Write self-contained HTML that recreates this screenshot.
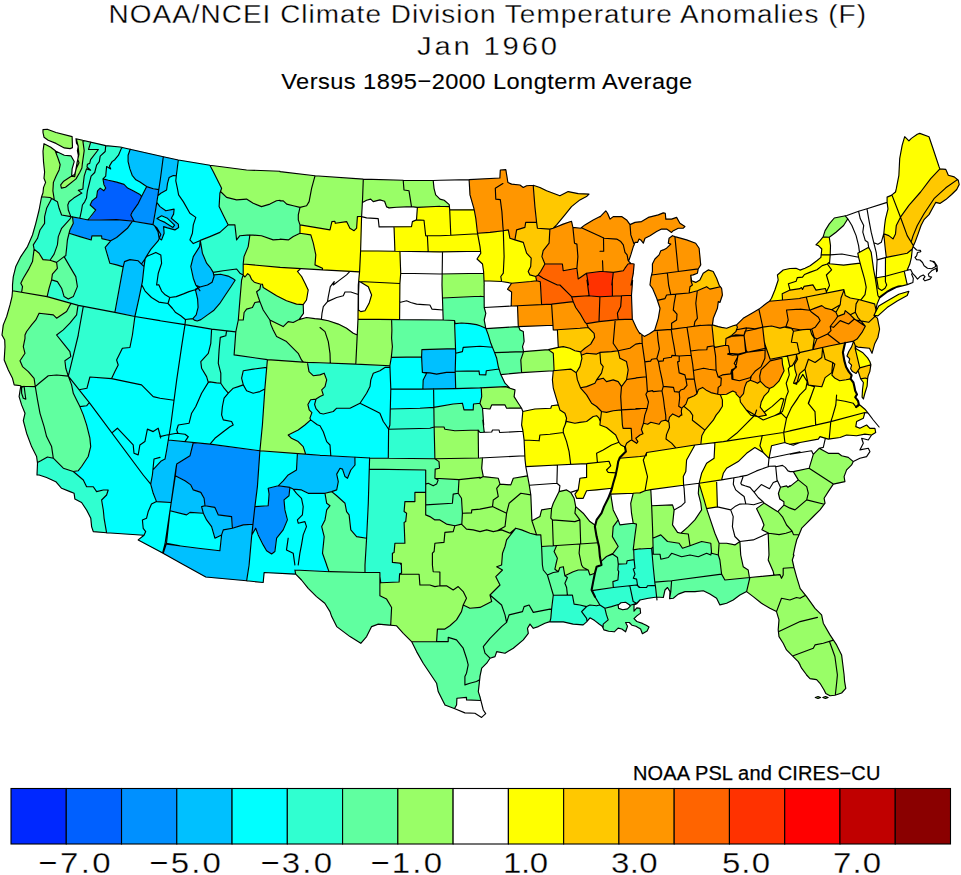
<!DOCTYPE html>
<html><head><meta charset="utf-8"><title>NOAA/NCEI Climate Division Temperature Anomalies</title>
<style>html,body{margin:0;padding:0;background:#fff;overflow:hidden}svg{display:block}</style></head>
<body><svg width="961" height="875" viewBox="0 0 961 875">
<rect width="961" height="875" fill="#fff"/>
<path fill="#0060ff" fill-rule="evenodd" stroke="#0060ff" stroke-width="0.6" d="M103.5,179.2 104,184.2 105.8,188.2 104,190.8 101,188.5 100,188.5 97.5,191.2 96.5,197.2 92,201 90.5,204.8 95.5,209.8 95.5,210.5 88.8,219.8 118.5,219.8 132,221.2 133.8,221 130.8,214.8 132.5,211.2 138.2,203.2 141.8,196.2 138.8,193.8 127.5,188 123.8,184.5 116.8,182.2Z"/>
<path fill="#0090ff" fill-rule="evenodd" stroke="#0090ff" stroke-width="0.6" d="M193.2,442.8 190.2,455.5 177,464 175.2,475.8 185,480.5 190.8,484.8 193.5,490 200.5,492.2 204,497.8 205.2,505.8 214.8,507.2 218.8,515 231.2,516.5 232,518.5 232.8,528 242.8,525 252.5,524.2 253,526.2 252.2,532.5 253,532.5 254.5,530 255.8,529 266.5,550.5 271.2,553.8 274,552.2 275.2,549.8 276.5,538 283.2,530 287,520.5 285,511 284,500 288.8,496 289.8,487.8 278.5,485.8 268.8,488.2 269.2,495.2 268.2,505.5 265.5,506.2 255.2,506.8 255,505 257.8,484 260,451 211.5,444.8 210.5,444.2ZM69.5,233.2 90.5,239.8 91.2,239.5 91.8,236.2 92.2,235.8 101.5,235.8 102.5,238.5 110.5,240.8 116.5,237.5 127,228.5 131.8,221.2 118.5,220 89.5,220.2 80,218.2 72.8,217.5 73.5,223 70,230.2ZM146.8,186.8 138.5,203.2 132.8,211.2 131,215.2 134,221 134.8,221.5 152.8,224.5 158.8,190.2 158.5,189.8 153.2,189Z"/>
<path fill="#00c0ff" fill-rule="evenodd" stroke="#00c0ff" stroke-width="0.6" d="M279,485.8 289.2,487.2 294,489.2 302,490 308.5,493.2 325,493.2 336,490.2 336.8,489.8 338.2,481.5 336.8,473.8 339.2,469.2 340.2,468.2 342.8,469.2 345,476.2 347.5,477.8 350.8,469.8 355,464.8 355,457.5 297.8,454 296.5,470 288.5,475ZM168.5,440.2 165.2,459 161,461.2 153,469.8 152.2,476.8 150.8,484 153.2,493 156.5,501.5 171,502.5 171.2,503.8 170.2,510.8 187,514.8 189.8,512.5 203,513 206.8,520.2 212,527.2 215,537.8 216,537.8 221.2,535.2 221.5,538.2 220.5,548.8 219.8,550.8 180,546.2 166.5,544 165.5,544.8 163.2,553 206,577 246.5,580.5 249.2,563 251.5,535 252.2,533.2 252.5,524.5 242.8,525.2 232.8,528.2 232.2,527.2 231.2,516.8 218.8,515.2 218,514.8 214.8,507.5 205.2,506 204.8,505.2 204,498.5 201,493 193.5,490.2 190.8,485 185,480.8 175,475.8 176.8,464 190,455.5 193,442.8ZM455.2,348.8 422.2,349.8 421.5,357.5 422,359.5 422.8,372.2 426,372.8 426.5,373.2 423.5,379.8 423.2,388.8 430,389 455.8,388.2 455,373 455.8,350.5ZM200.5,244.5 199.8,245 199,247.8 193.2,256.8 191,265.8 193,277 195.5,284.2 197,286 198.8,286.2 199.5,287 195.5,289.8 197.8,299.2 198.2,307.2 196.5,315 193.2,318.8 194.5,320 196.5,320.8 201,319.5 213,311 219.8,303.8 234.8,280.2 232.8,278.5 228,276 221.5,274.5 215,275 213.5,274.5 213.2,272.2 206,262.5 202.2,253 201,245ZM173.8,209.5 165.5,210.8 160.5,207 157,203.2 153.8,221.8 152.8,224.8 135.8,222 134,221.2 132,221.5 127,228.8 116.5,237.8 110.8,240.8 105.5,247.2 110,263 123.2,267 115.2,312.5 134.8,316.2 139.2,297 141,287 141.8,285.8 144.8,259.2 150.8,249.2 158.2,240.5 158.8,238.8 159.5,238.2 161.8,239.5 164,233.2 163.8,226.8 174,229.8 175.8,229.5 178.5,227 178,223.8 171.2,218 173.5,213.8ZM157.2,218.5 161.5,215.8 163.5,216.2 167.8,218.2 174.5,225.5 172.8,227.5 165.5,222.8 159.8,220.2ZM130.2,149.8 128.2,154.8 128.2,162.2 132,174.5 135,178.8 146.8,186.5 153.2,188.8 158.5,189.5 159,190.2 158.5,194.5 166,190.2 166.8,188.5 167.2,183.8 168.8,177.8 173,175.5 176,175.8 178.2,160.2 133.2,150Z"/>
<path fill="#00ffff" fill-rule="evenodd" stroke="#00ffff" stroke-width="0.6" d="M325,493.5 308.5,493.5 302,490.2 294,489.5 290,488 289,496 284.2,500 285.2,511 287.2,520.5 283.5,530 276.8,538 275,551.5 271.2,554 266.2,550.5 257.8,534.2 255.8,529.2 252,534 249.5,563 246.8,580.5 263,582.2 264.2,572.5 295,574.2 295.5,574 295.2,570 328.8,571.5 322.5,553.8 324.2,536.8 321.8,526.2 325,519.8 326.5,510.2 329.8,505.8 326.5,502.8ZM481.2,388.2 423.8,389.2 423,388.8 423.2,379.8 426.2,373.2 422.5,372.2 421.2,357.2 391.5,357.8 389.8,367.8 384.8,367.8 381.2,370.2 373.2,373.5 371,379.5 370,387 366.8,393.2 360,403.5 349.8,408.5 336.5,408.5 333,411.8 324.2,414 322.2,414 320.2,413.5 315.8,408.2 314.8,405 315.5,399.5 311,399.8 308.2,404.2 309.2,409.8 312,412.5 310.2,417.5 310.8,420 298.2,430.2 288.8,435.2 291.8,438.2 298.5,441.8 303.2,446.5 305.8,454 354.5,457 355.2,457.5 355.2,464.8 351,469.8 347.5,478 344.8,476.2 342.5,469.2 340.5,468.5 339.5,469.2 337,473.8 338.5,481.5 337,489.8 336,490.5 332.8,491.2 332.5,492 345.2,503.5 346.8,511.2 349.5,515.2 351,530.2 356.8,536.2 366.2,538 368.2,505 369.5,458.2 388.2,458 388.5,428.5 390,425 390.2,409.2 394.8,408.8 421,408.2 435.2,407.2 452.2,404 462.2,403.2 464,409.5 472.5,409.8 473.2,409 473.8,404 480,403 481.8,396.5ZM455,323.5 455.5,349 456,350.5 455.5,371.2 478.8,370.8 479.8,374.2 485,375 485.8,374.2 486,371.5 486.8,370.5 498.5,369 498.8,368.2 496.8,358.2 494.8,352.5 490.8,343.8 486,328.5 479.2,325.5 474.5,324.2 464,323.2ZM157.5,218.5 165.5,222.5 172.8,227.2 174.2,225.5 167.8,218.5 163.5,216.5 161.5,216ZM179.5,160.2 178.2,160.5 176.2,175.8 173,175.8 169,177.8 166.5,190 158.5,194.8 157,201.2 157,203 159,205.2 165.5,210.5 171.8,209.2 174,209.5 173.8,213.8 171.5,218 178.2,223.8 178.8,227 175.2,230 163.8,227 164.2,233.2 162,239.5 161.2,239.8 159.5,238.5 159,238.8 158.5,240.5 151,249.2 145,259.2 142,285.8 141.2,287 139.5,297 135,315.5 132.8,333.5 130,347.2 128,348 122.5,348.5 116.8,359.8 118.2,365.5 111.5,378.5 90,377.2 87.2,388 86.8,388.5 79.8,390 89.2,402 89.2,402.8 86.5,405.8 80.8,406.5 80.5,407.8 83.8,415.8 87.2,426.8 90.2,438.2 91,446.2 88.5,456.5 79.2,469.8 77.8,471 74.2,471.8 74.5,472.5 83.5,480 86.5,486.5 93.2,486.8 96.5,491.5 102.5,490 108.2,490.2 106.5,495.2 101.8,500 106.5,532.5 142.5,535 143.2,535.8 139,539.5 139.5,540.5 162.2,552.8 163.2,552.2 165.2,544.8 166.5,543.8 180,546 219.8,550.5 221.2,538.2 221.2,535.5 215.2,538.2 214.8,537.8 211.8,527.2 206.5,520.2 203,513.2 189.8,512.8 187,515 176.8,512.8 170,510.8 171,502.8 159.5,502.2 156.2,501.5 153,493 150.5,484 152,476.8 152.8,469.8 161,461 165,459 168,440.5 168.5,440 210.5,444 211.5,444.5 259.8,450.5 260.2,452 258,484 255.2,506.5 268,505.5 269,495.2 268.2,488.5 269.5,487.8 278.8,485.5 288.5,474.8 296.2,470 297.5,455 297.2,453.8 260,450.8 262.5,425.8 266.5,367.8 252,369.2 243.8,370.8 241.8,377.2 243.2,385 233.5,388.2 228.2,393.2 224,388.5 220.5,383.2 216.2,383.2 211.2,382.2 208.5,382.5 207.8,381.5 206.2,376 201.8,368.5 200.8,361.2 208.2,353 210.8,343 211.5,329.2 184.8,324.5 185.8,319.5 192.8,318.8 196.2,315 198,307.2 197.5,299.2 195.2,289.8 199.2,287 197,286.2 195.2,284.2 192.8,277 190.8,265.8 193,256.8 198.8,247.8 199.5,245 200.2,244.2 199.8,241 202.8,239.2 220,232.5 228,224.8 219,206.8 219.8,194.5 221.2,187.8 210.5,165.8 209.8,165.2ZM121.8,147.8 118.8,155.2 114.8,160 112,161.8 109.5,166 109.8,167.8 108.8,168 106.8,167 106,175.8 103.8,179 116.8,182 123.8,184.2 127.5,187.8 138.8,193.5 141.8,196 146.5,186.5 136,180 132.2,175.5 128,162.2 128,154.8 130,149.5Z"/>
<path fill="#30ffd0" fill-rule="evenodd" stroke="#30ffd0" stroke-width="0.6" d="M652.8,547.5 651.2,548.5 638.8,549 634,549.8 634.5,557.8 634,559.8 627.5,560.8 627,563 626,564 618.5,564.5 618.2,570.5 619,572.5 618.2,579.5 617.2,580.5 613.2,581.5 613.2,587.5 592.2,591 595.2,597 599.5,603.8 599.8,604.8 598.8,605.5 596,606 589.5,605.2 586,606.8 581,605.2 574.5,604.2 573.8,603.5 572.5,595.2 553.5,595.2 550.2,621.5 551.5,622 564.2,622 573.2,624 582.8,625 590.2,617.8 594.8,620.2 602.8,626.2 603.2,624 608,620 605,609.2 605.2,608 618,604.8 620.8,602.8 624,602.2 626.2,602.5 630.2,605.5 636.5,603.5 640,600 641.2,599.5 656.5,597 652,554.2 653.2,552.2ZM369.5,469.2 368.5,505 365.2,562.5 365.2,572.2 379.8,572.5 380.2,573.2 380.5,582.2 381.5,582.8 398.2,582 399,581.2 399.5,574.2 400.8,573.8 401.5,572.5 401.2,565 400,563.2 394,562.8 392.5,562 392.5,553.2 394,551.8 394.8,544 395.2,543.2 404.2,543.2 405,542.5 404,522.5 405.8,521 406.5,513.8 404,511.5 404.8,502.2 405.2,501.5 414.8,501.2 415.2,492.5 425.5,492.5 425.8,470.8 425.5,470.2ZM37.8,462 37.2,474.8 39.8,475 47.2,477.5 54.8,481 62,488.2 73.8,493 74.2,493.5 75.2,499.2 81.8,502.5 89.2,514.8 91,518.5 91.8,527 93.2,531.2 106.2,532.5 101.5,500 106.2,495.2 108,490.2 102.5,490.2 96.5,491.8 93.2,487 86.5,486.8 83.2,480 73.8,471.8 63.5,468.5 53,458 47.2,457.2 41.8,460.5ZM433.8,407.5 421,408.5 390.5,409.2 390.2,425 388.8,428.5 388.5,458 400.5,458.5 435,458.5 434.2,429.8 433.8,427.8ZM508.2,387 504.8,383 500.5,374.2 498.8,369 486.8,370.8 486,374.2 485,375.2 479.8,374.5 478.8,371 455.5,371.5 455.2,372 456,388.2 456.5,388.5 481.5,388 503.2,386.5ZM316.2,408.8 320.2,413.2 324.2,413.8 333,411.5 336.5,408.2 349.8,408.2 360,403.2 366.5,393.2 369.8,387 370.8,379.5 373,373.5 381.2,370 384.8,367.5 389.8,367.5 389.8,366 358.8,364.5 356.2,364 307.8,362.8 309,371 313.2,375.5 319.8,375 324.2,373.5 327,380 325,386.8 322,389.8 323.2,395 315.8,399.2 315,405ZM69.5,233.5 67.5,240.8 66,255.2 64.2,256.8 75.8,276 77.5,287 73.5,296.5 68,299 63.8,296.2 61.2,287.8 57.8,282 56.5,281.2 51.5,280.2 49,288.2 47.2,296.5 78,305.5 76.5,315.2 71.2,322 63.5,329.8 57.2,334.5 57,335.5 70.2,352 70.8,356.8 65.2,360.8 65.8,367.5 67.5,373.5 68.2,374.2 68.2,376 69.8,378.5 69.8,380 71.8,385 73.2,393 77.2,401.2 80.5,406.5 86,405.8 89,402.8 89,402 79.5,390 80.8,389.2 87,388 90,377 110.2,378.5 111.8,378 118,365.5 116.5,359.8 122.2,348.5 129.8,347.2 132.5,333.5 134.8,316.5 115,312.5 123,267 111.8,264 109.8,263 105.2,247.2 110.2,241 102.5,238.8 101.8,238 101.5,236 92.2,236 91.5,239.5 90.5,240ZM228.5,225 220,232.8 200,241 200.5,244.2 201.2,245 202.5,253 206.2,262.5 211.5,269 213.5,272.2 213.8,274.5 221.5,274.2 228,275.8 233.8,279 235,280.2 220,303.8 213,311.2 201,319.8 197.8,321 195,320.5 193,318.8 186.2,319.5 185.5,320.5 185,324.5 211.2,328.8 211.8,329.2 211,343 208.2,353.5 201,361.2 201.8,367.8 206.5,376 208.5,382.2 211.2,382 216.2,383 220.5,383 224.2,388.5 228.2,393 233.5,388 243,385 241.5,377.2 242.8,372 243.8,370.5 252,369 266.5,367.5 267.5,360.2 267,359.5 235.5,355.5 234,354.8 235.5,332 238.5,318 241.2,281.2 243.2,273.5 243.8,257.2 248.2,246.2 249.8,235.2 240,236 236.8,239.5 236.2,239 234.8,225.2ZM121,147.2 105.8,145.8 92.5,142.5 90.8,142.5 89,149.2 97.8,149.5 98,150 90.8,159.5 90,163.2 87.5,164.8 87.2,167 89,169.2 86.8,169.2 84.2,176.8 83,188.5 82.5,189.2 79.2,190.2 81.8,193.2 71.2,200.2 69.2,202 68.2,204 68.2,209.2 70.5,216.2 69.5,216.8 61.5,215 58.8,208.2 57.5,202 54,199.5 52,198.8 46.5,208.5 44.8,215.8 44.8,223 40.2,229.8 38,237.5 33.5,244.8 34.5,249.5 35.8,250 39.5,253.2 43,259.2 50.2,260 54,254 57,246.2 57.8,243 58.2,236 61,229 70,219.2 71,217 80,218 88.5,219.8 95,211 95.2,209.8 90.5,205.2 90.8,203.2 91.8,201 96.2,197.2 97.2,191.2 100,188.2 101,188.2 103.8,190.5 105,189.2 105.5,187.5 103.8,184.2 103.2,179.2 105.8,175.8 106.5,167 107,166.8 109.5,167.8 109.2,166 111.8,161.8 114.8,159.8 118.5,155.2 121.5,148Z"/>
<path fill="#60ffa0" fill-rule="evenodd" stroke="#60ffa0" stroke-width="0.6" d="M648.8,627 645.2,624.8 637,621.8 634,618.8 640.2,613.2 640.5,612.5 639.5,608.5 636.8,608.2 635,610.2 634,610.2 633.8,604.5 630.5,605.5 627.5,609 623,610 618.8,608.8 618,605 605.2,608.2 606.5,614.8 608.2,620 603.5,624 603.5,625.2 602.8,626.5 604.2,630 608.8,631.2 613.8,631.8 618,628 621.5,628.8 625.5,631.2 627.2,626.8 627.2,625.8 625.8,623.2 626,622.5 629.5,622.5 632.2,625.2 636,626 640.8,629 642.5,633.2 647,631ZM653,538.2 653.5,552.2 652.2,554.2 656.8,597 663.2,597.2 664.8,590.2 667.2,587.8 668,588 669.5,590.8 670.5,591.5 670,598.2 670.5,598.5 673,598.2 678.5,593.8 684.5,591.8 695.5,591.8 703.8,590.8 710,593.8 716.5,598 719.8,604.2 721,604.8 727,603 733.2,600 739.8,595 746.5,591.8 749.8,577.8 725,580 721.2,574.2 720,560 718.2,555.2 711.2,553 710.5,543.2 701,541.8 682.8,548.2 679.2,543.5 668,541.8 661,535.2ZM636.2,524 633,523.2 619.8,525 618.5,521 618,520.8 613.5,526.2 612.5,536.8 618.2,546 618.2,546.8 613.2,553.5 606.8,556.5 601.2,561 601.5,565 596.8,566.8 594.8,573.8 590.2,575 589.5,574.2 588.2,570.2 587,569.8 585.2,570.2 577.8,570.2 574,571.5 565.5,576 564.8,575.2 563.2,567 560.2,567.5 558.8,571 557.8,571.8 555,569.2 555.5,565.2 557.2,559.2 557.2,557.8 554,551.8 556,545.8 541.8,546.8 540.5,535.2 534.5,534.8 520.8,529.8 516.2,528.5 515.2,528.8 512.2,532 511.8,533.8 506.8,540.2 505.2,546.5 502.8,552.8 502,564.5 501.5,565.2 497.8,566.8 502.2,569.8 502.2,570.5 496,576.8 500,585.2 490.5,594.8 491.8,601.8 480.5,607.5 470,608.5 463.5,605.2 461.5,612 456.2,620.5 449.8,626 444.8,629.2 437.8,629.2 436.5,641.5 412.2,642 417,652.2 422.8,662.2 436.2,682.5 438.2,691.2 445,704.8 454.5,708.5 456.5,704.8 456.8,698.5 457.5,698 466.2,697.2 466.8,699.5 480.5,700.2 480,696.8 478.2,692.2 479.5,681.2 479.2,680 481.8,668.2 486.5,663.5 490.2,658 495,656.2 496.8,651.5 505.5,653 513.2,648.2 523,640.2 528.2,633 527.5,628 530,624.2 532.8,627.5 533.8,628 550,621.2 551,616 551.2,608.8 553,595.5 553.5,595 572.5,595 574,603.5 575.5,604.2 581,605 586,606.5 589.5,605 596,605.8 599.2,605 599.2,603.8 595,597 592,591 592.5,590.5 613.2,587.2 613,581.5 617.2,580.2 618,579.5 618.8,572.5 618,570.5 618.2,564.5 626,563.8 626.8,563 626.8,561.8 627.5,560.5 634,559.5 634.2,559 633.2,548.2ZM331,491.8 325.2,493.2 326.8,502.8 330,505.8 326.8,510.2 325.2,519.8 322,526.2 324.5,536.8 322.8,553.8 329,571.5 323.2,571.8 295.2,570.2 295.8,574 301.5,579.8 307.2,587 317.5,597.2 325,603.2 329.5,610.2 331.5,615.8 336.8,626.2 349.8,636.2 360.8,643 366.5,636.5 371.8,626.2 377.8,624 388.8,625.2 390.5,625 391.5,607.8 386.5,599.2 380,595.8 380.2,580.5 379.8,572.8 365.8,572.8 365,572.2 365,562.5 366.2,538.2 356.8,536.5 350.8,530.2 349.2,515.2 346.5,511.2 345,503.5 332.2,491.8ZM369.8,458.2 369.5,469 425.5,470 426,470.8 426,515 430.8,516.8 435.2,520 440.5,520 447.8,524.2 454.8,525.8 461.5,523.8 462.2,515.2 461.5,498.5 458,493.2 459,479.8 442.5,478.8 437,479 435,478 435.2,469.2 435.8,468.8 439.2,468.2 439.5,467.8 439,462.2 435.2,458.8ZM434,407.5 434.2,427 444,427 445.5,429.2 454.5,430.8 478,430 480.5,432.5 484.2,432 483,420.8 483.2,417.2 482.5,408.2 480,403.5 473.8,404.2 473.5,409 472.5,410 464,409.8 462.2,403.5 452.2,404.2ZM518.5,326.5 486.2,328.8 491,343.8 495,352.5 497,358.2 498.2,366.2 501,374.5 521.8,372.2 520.8,359.5 523.2,352.2 522.5,346 524,340.5 523.2,332 522.8,331.2 519.8,329.8 519,326.8ZM70.8,303.8 66.8,311.5 56.8,318.2 52.8,315 39.2,313.5 36,319.8 27,331.2 25.2,334.8 25.2,338.2 23.5,345.8 25,353.5 20.2,360.5 20.2,361.2 22.5,366.5 28,371.2 34.2,378 35.5,386.2 34.5,386.8 24.2,386.5 22.5,386.8 21.8,388 20.5,388 19.5,397 22,405.5 25,412.8 23.5,421.5 26.8,433 31,444.5 36.8,456 37.5,461.8 40.8,460.8 47.2,457 53,457.8 63.5,468.2 74,471.8 75.2,471 77.8,470.8 79,469.8 88.2,456.5 90.8,445.8 90,438.2 84,417.2 80.2,406.8 73,393 71.5,385 65.8,368.8 65,360.8 70.5,356.8 70,352 56.8,335.5 57.2,334.2 63.5,329.5 71,322 76.5,314.8 77.8,305.5ZM484,296.8 477,296.5 442.8,298.2 442.8,309.8 443.2,310.8 443.5,319.8 442.5,320.2 391.8,320 392.2,328 391.8,339.8 392.8,347 391.5,357.5 421.2,357 422.2,349.5 455.2,348.5 455,323.2 464,323 474.5,324 479.2,325.2 485.2,327.8 485.5,326.8 484.2,319 485.8,313.2 484.2,307.5ZM260.8,284.5 260,289.2 256.8,292 260,301.5 259.5,302 255,302.8 252.2,307.8 246.8,309.2 244.2,312.2 243.8,318 243,320 238.2,320.2 235.8,332 234.2,354.8 267.2,359.5 302.5,362 298,353 286.8,341.8 276.2,336.2 270.8,324.5 270.2,320.8 271.5,320.5 283,326.2 288.2,321.8 293,322.5 297,320.8 299.8,319 303.5,313 303,305 296.5,304.5 287.2,301.2 276.2,295.8 263,287.2 262.5,284.5ZM72.5,217.2 71,217.2 70.2,219.2 61.8,228 58.5,236 58,243 57.2,246.2 54.2,254 50.5,259.8 51.5,260.8 56.2,262.2 57.5,266.8 57.5,268.5 52.5,274.2 51.8,280 56.5,281 58,282 61.5,287.8 64,296.2 68,298.8 73.2,296.5 77.2,287 75.5,276 64,256.8 65.8,255.2 67.2,240.8 69.8,230.2 73.2,223ZM50.5,197.8 41.8,197 39.5,210 32.5,235.5 27.8,246.5 21,256.2 15.8,266.8 13.2,277.5 12.8,290.8 21.5,292 22.2,286 20.8,283 32.2,262 34.2,249.8 33.2,244.8 37.8,237.5 40,229.8 44.5,223 44.5,215.8 46.2,208.5 51.5,198.5ZM220.5,192.2 219.2,206.8 228,224.5 228.8,225 235,225.2 236.8,239.2 240,235.8 252,235 262,235.8 273.2,240 277.8,239.8 280.2,239 288,240 293,236.5 300,233 300,225 298.2,220.5 298.2,214 299.8,207.5 287,204.2 283.5,201 280.5,201 280,200.5 277,200.8 269,204.5 261,206.5 253,203.2 247,199.2 236.8,200.2 226.8,197.8 221.2,192.2ZM90.2,142 83.2,140.8 84.5,150.8 82,168.5 76.2,179 65.2,187.5 61.5,188 61,187.5 60.8,184.5 64.2,180.8 71.8,175.8 72,169.8 74,161 71,156.2 64.5,155.5 57,151.8 55.8,151.8 60.5,164.8 59.2,170.5 55.8,177 53.8,182 53.2,192 54.2,198 54,199.2 57.8,202 59,208.2 61.2,214.2 62,215 69.5,216.5 70.2,216.2 68,209.2 68,204 69,202 71.2,200 81.5,193.2 79,190.2 82.8,188.5 84,176.8 85.5,171.5 86.8,169 88.8,169.2 87,167 87.2,164.8 87.8,164 89.8,163.2 90.5,159.5 97.8,150 89.5,149.8 88.8,149.2 90.5,142.8Z"/>
<path fill="#99fe67" fill-rule="evenodd" stroke="#99fe67" stroke-width="0.6" d="M823.8,697.5 825,698.2 827.2,697.5 826,696.8ZM816.2,697.5 818,698.5 819.8,697.5 818.5,696.8ZM633.2,493.5 631,502.5 631.8,514.5 633.2,523 636.5,524 633.5,548.2 633.8,549.8 638.8,548.8 651.2,548.2 652.8,547.2 653,546.5 652.8,538.2 660.2,535 661,535 668,541.5 679.2,543.2 682.8,548 701,541.5 710.5,543 711.2,545.5 711.5,553 718,554.8 718.8,555.8 720.2,560 721.5,574.2 725,579.8 749.5,577.5 748.2,570.2 743.8,567.2 742.8,565.5 740.8,556 739.8,542 735.2,544.8 727.8,543.5 719.2,543.5 718.8,543 714.2,531.8 708.5,515 700.5,488.2 699.5,486.2 698.8,487.8 698.5,494 700.8,502.2 701.8,509.8 695.8,519.2 681.2,533.2 677.8,532.8 672.5,525.2 674.2,510.5 672.5,505.2 652,506 651.5,504.8 650.5,490 645.5,490.5 640.2,493ZM819.5,448.5 813.5,454 809.8,467.5 809,468.5 793.5,471.8 798.2,480 791,485.8 788.2,487.2 787,486.2 780.5,487.5 778.8,493 778.8,494.5 779.8,498.8 784,501.8 784.2,505.2 778,511.8 764.2,503.2 757,508.2 756.8,508.8 762,519 764,524.5 762.2,529.5 767.2,532.2 768.2,533.5 769.2,552 768.5,560.5 773.2,571.2 774,575 772.2,575.8 750,577.8 746.8,591.8 753.2,596.2 761,602.8 776.8,611.8 779.2,620 778.5,628 779.2,636.8 783.5,643.2 786.5,649.8 798.2,661.2 802,668.5 807,675.5 810.5,678.8 816.8,679.8 820.2,683.2 825.8,693.2 830.5,695.8 834.5,695.2 840.8,693.2 845.5,688.5 841.5,655.2 836.5,645 833.8,640.8 832.8,640 823,623 821.5,614.8 814.5,607.8 806.8,596.5 800.2,588.8 796.2,576.5 794.5,569.2 793.5,567.2 793.8,566.5 792.2,559.5 793.8,555.5 793.2,554.8 796.5,540.2 801.5,528.5 820.8,509 824.8,503.5 824.2,498 832.8,484.2 844.8,481.5 844,476 846,470.8 851.2,465.2 853,461.5 848.5,457.8 841.8,456 838.5,453.5 828.5,453.5 820.8,449.2 820.2,448.5ZM380.2,595.8 386.8,599.2 391.8,607.8 391,625.2 396.5,625.8 411.8,641.8 436.5,641.2 437.5,629.2 444.8,629 449.8,625.8 456.2,620.2 461.2,612 463.5,605 470,608.2 480.5,607.2 491.5,601.8 490.2,594.8 499.8,585.2 495.8,576.8 502,570.5 502,569.8 498.2,567.8 497.5,566.8 501.8,564.5 502.5,552.8 505,546.5 506.5,540.2 511.5,533.8 512,532 515.8,528.2 523,530.2 531.8,533.8 537,535 540.5,535 541.2,537.5 541.8,546.5 552.8,545.5 556.2,545.8 554.2,551.8 557.5,557.8 557.5,559.2 555.8,565.2 555.2,569.2 557.8,571.5 558.5,571 560.2,567.2 563.2,566.8 564.8,574.2 565.5,575.8 574,571.2 577.8,570 585.2,570 587,569.5 588.5,570.2 590.2,574.8 594.8,573.5 596.5,566.8 601.2,565 601,561 606.8,556.2 613.2,553.2 618,546.8 618,546 612.2,536.8 613.2,526.2 618.2,520.2 613,509.5 610.8,494.2 610.2,494 609.8,494.5 608.5,498.2 603.8,507.2 601.5,513.5 596.8,519.8 595.8,524.2 595,525 590.5,522 584.2,514.5 575.8,506.8 573.8,497.8 571,492.8 567,490.2 559.5,491.2 553,504 551.8,508 551.2,508.5 542,510 541.2,511.2 540.2,516.2 534,520 532.2,520.5 531.8,518.5 530.5,493.2 527.2,476 513.2,478.5 511.2,484.2 510.2,485.2 500,484 498.5,479 497.5,478.2 483.2,476.5 481.8,469.2 482.5,458.8 482.2,458.2 479.2,458.2 478.5,457.8 478.2,430.5 454.5,431 445.5,429.5 444,427.2 434,427.2 434.5,429.8 435.2,458.5 439,461.8 439.8,467.2 439.2,468.5 435.5,469.2 435.2,478 437,478.8 442.5,478.5 459.2,479.8 458.2,493.2 461.8,498.5 462.5,511.5 462,523.2 461.2,524.2 454.5,526 446.8,524.2 440.5,520.2 435.2,520.2 430.8,517 426,515.2 425.5,492.8 415.2,492.8 415.2,500.8 414.8,501.5 405.2,501.8 404.2,511.5 406.8,513.8 406,521 404.2,522.5 405.2,542.5 404.2,543.5 395.2,543.5 394.2,551.8 392.8,553.2 392.8,562 400,563 401,563.8 401.5,565 401.8,572.5 400.8,574 399.8,574.2 399.2,581.2 398.2,582.2 383.2,583 380.5,582.5ZM521,407.5 514.2,396.8 515,390.5 514.2,389.8 506.2,386.8 481.5,388.2 482,396.5 480,403.2 482.8,408.2 489.5,409 491.8,405 505,405 507.2,408.2 520.2,408ZM553,353.2 548.8,349.8 523.5,351.8 521,359.5 522,372.2 554,370.5ZM391.5,320 358.2,319.5 357.8,331 357,334.8 353,333.2 346.8,328.2 338.8,324.2 328,320.8 321.5,319.5 306,317.8 300.8,319.5 299.8,319.2 293,322.8 288.2,322 283.5,326.5 271.5,320.8 270.5,320.8 271,324.5 276.5,336.2 286.8,341.5 298.2,353 302.8,362 299,362.2 267.8,359.8 265,388.8 262.8,425.8 260.2,450.8 303.8,454.2 305.5,454 303,446.5 298.5,442 291.8,438.5 288.5,435 298.2,430 310.5,420 310,417.5 311.8,412.5 309,409.8 308,404.2 310.5,399.8 315.5,399.2 323,395 321.8,389.8 324.8,386.8 326.8,380 324.2,373.8 319.8,375.2 313.2,375.8 308.8,371 307.5,362.8 330.2,362.8 331.2,363.2 356.2,363.8 358.8,364.2 389.8,365.8 392.5,347 391.5,339.8 392,331.5ZM248,274 245.2,276.8 243.2,275.5 241.8,279.5 238.5,319.8 239,320 243,319.8 244,312.2 246.8,309 252.2,307.5 255,302.5 259.8,301.5 256.5,292 259.8,289.2 260.8,284.2 254.5,282.5 251.5,279.5 249.5,275ZM483.5,273.5 442.5,274.2 442.2,289 442.8,298 477,296.2 483.8,296.5 484.2,283.5ZM35,249.8 34.2,250 32.5,262 21,283 22.5,286 21.8,292 20,292.2 12.8,291 12.2,296.2 10,306 6.8,317 3.2,325.2 2.2,335.2 5,340.2 5.2,348.2 4.5,360.5 8,369.2 12.5,377.8 14.2,384.8 20,385.5 21,386.2 20.8,387.8 21.8,387.8 22.5,386.5 35.2,386.2 34,378 28,371.5 22.2,366.5 20,361.2 20,360.5 24.8,353.5 23.2,345.8 25,338.2 25,334.8 26.8,331.2 35.8,319.8 39.2,313.2 52.8,314.8 56.8,318 66.5,311.5 70.5,304 70.2,303.2 47,296.5 48.8,288.2 51.5,280 52.2,274.2 57.2,268.5 56.5,262.8 50.5,260.2 43,259.5 39.2,253.2ZM322.5,269.5 322.2,268.2 315,265 315.8,255 313.2,243.2 310.5,235 300,233.2 293,236.8 288,240.2 281.5,239.2 273.2,240.2 262,236 249.8,235.5 248.5,246.2 244.2,256 243.5,264 282.8,267.5ZM845.8,216.2 842,216.5 834.2,218.2 829.5,223.5 825.8,229.8 823.5,236.8 829.2,237.2 836,232.2 844,224.8 847.8,219ZM210.8,165.8 221.5,187.8 220.8,192 226.8,197.5 236.8,200 247,199 253,203 261,206.2 269,204.2 277,200.5 280,200.2 280.5,200.8 283.5,200.8 287,204 300,207.5 298.5,214 298.5,220.5 300,224.8 330,229.8 331.5,222.8 332.2,221.5 334.8,221.2 335.5,223 346.5,221.5 350,228 354.2,230.5 356.5,227.8 357.5,216.8 361.2,216.2 362.2,202.2 366.8,200 371,199 373.2,201.2 379,200 384.2,201 386.5,206.8 389.2,208 411,206.2 417.2,207.5 437.2,206.2 449.2,206.2 449,204.2 444,200.2 439.8,199 435.5,194.8 434,189 433.2,180.8 399,180.5 362.2,179.5 314.5,176 281.8,172.2 280,171.5 246.2,170.2ZM44,144.2 43.2,154.2 44.8,171.2 44.2,178.8 45.5,183 43.8,187.2 43.2,192.8 42.2,196.5 50.5,197.5 53.8,199.2 54,198 53,192 53.5,182 55.5,177 59,170.5 60.2,164.8 55.2,150.8 50.8,147.2 45,144.2ZM82.5,140.2 76.5,139.2 77,143.2 78.2,146 78,151 78.8,155 78,161 77.2,161.8 77,163.2 77.2,165.8 75.2,173.8 74.5,174.8 71.8,176 64.2,181 61,184.5 61.5,187.8 65.8,187 76,179 81.8,168.5 84.2,150.8 83,140.8ZM43.2,129.8 43.2,133.5 44,136.8 48,140 56,143.2 64.5,148 69.8,148.5 72.2,147.5 72.5,142.8 72,136.8 56,132.8 47.8,129.5Z"/>
<path fill="#ffff00" fill-rule="evenodd" stroke="#ffff00" stroke-width="0.6" d="M523,411.5 522,426 524.2,439.8 525,452.8 524.8,456.2 526,466.5 586.5,463.5 586.8,476.8 585.8,477.8 580.8,478.2 580,478.8 578.5,489.5 575.2,493.8 576.2,497.5 577,498.2 583.2,498 586.2,491 587.8,490.5 597,490 611.5,488.2 612,489 610.5,492.8 610.5,494 634.2,493.2 640.2,492.8 645.5,490.2 650.5,489.8 651.2,489.2 683.5,485 683.2,476.2 685.8,471.2 686.5,459.8 693.5,447.8 694.2,445.5 647.2,452.5 645,456.2 620,458.2 620,457.2 625.5,451.8 625,447.5 621,445.2 618.5,442.2 615.5,434.8 606.5,427.5 600,425 600.2,420.8 598.8,418 596.8,416 593,416.8 586.2,421.8 579,422.5 575,423.5 567.5,422 566,421.2 566.5,418.2 565.2,414 564,412.5 559.8,409.5 558,405 551.5,406 551.2,407.5 550.2,408.5 534,409.2ZM865.8,378.2 861.2,379.2 863.8,382.8 862.2,395 862.2,397.5 863.2,398.2 867,386.2 867.5,379.5ZM850.5,379 839.5,380.8 835,378.2 832,375.2 832.2,373.8 831.8,372.8 825.2,377.8 821.8,386.8 814,386.5 810.2,385.8 808,384.5 807,380.5 805.8,379.5 806.8,378.5 805.2,370.5 804.2,370 800,373.8 798,379.5 798,380.2 799,381.2 797.8,381.8 795.8,383.8 794.2,383.5 793.8,382 796.5,375 795,370.5 794.2,364.5 794.8,363.8 793.8,363.5 792.2,365.8 790,366.5 789.2,365.2 787.5,356.2 780.8,357.2 781,358.2 782.2,359.2 782.8,365.5 784,371.2 779.5,380.8 774,386.5 769.5,388.8 768.5,391.8 764.2,396 761.2,402.2 760.5,407.5 766.2,414.8 765.8,415.2 759.5,416.5 759,417 755,415.5 754,416 753,415.8 753.8,414.2 750,412 748.8,412 746,409.5 740.5,402.2 739.8,397.5 736.2,394.2 735.5,392.5 733.2,391.2 726.2,394.5 720.8,395 722.5,400.2 722.2,406.8 719.5,411.2 716,415.2 713.5,420.2 705,430.2 701.8,436.5 701,444 702,444.2 714.8,442.8 715.2,443.5 714.2,457.8 713.2,459 706.5,463.5 701.5,473.5 699.2,483.2 699.2,485.5 700.8,488.2 706.5,508.2 716,507.2 717.5,506.2 716.2,481 716.8,480.5 721.8,479.8 723,473.5 726.8,468 737.5,462 747,452.8 754.8,447.5 762.2,451.2 769,457.5 771,447.2 772,445.5 784.8,442.2 790,444.2 793,443.8 794.2,444.8 795,443.8 800.2,442.2 818,439 820,436.8 828.5,439 829.2,438.5 830.5,438.8 839.8,437.5 846,435 855.5,435.8 863.8,434.2 871.2,435 875.5,432.5 875,428.5 869.8,428.2 866.8,425.2 860.5,428.2 855.8,426.8 856.5,421.8 862.8,418.5 863.5,417.5 864.5,413 865,412.5 867.2,412.5 864.8,409 860.5,405.5 859,405 858,401 855.2,397.5 856.8,394 855,390.5 853.5,382.8ZM855.8,348.5 855.8,350.8 859.8,367.5 860.5,367.8 870.5,365 870.8,364.2 869.8,361.5 867.5,357.8 862,352ZM549.2,349.8 553.5,353.8 554.2,370.2 556.2,370.5 571,369 576,372.5 576.8,372 580,366.5 581.8,359.2 581.5,355 580.5,352 575.2,351 570.5,348.5 564,346.8 558.2,347.5 549.8,349.2ZM908.5,292 907.8,291.8 899,294.2 879.2,305.8 877.8,308.5 876.5,309.2 874.5,315.2 875.2,316 878.2,315.8 886.8,307.5 897,300.8 907.2,295.5ZM243.5,264.2 243.5,275.5 245.2,276.5 247.8,273.8 249.8,275 251.8,279.5 254.5,282.2 260,284 262.5,284.2 263.5,287.5 276.2,295.5 287.2,301 296.5,304.2 303,304.8 306,300.8 307,297.2 308,289.5 301.8,276.5 297.8,272 297.8,271.2 299.5,269.5 299.5,268.5 279.2,267.5ZM770.2,301 782.2,300 782.2,293.8 790,289.8 798.5,288.8 801.2,287.5 802.8,288.8 804.5,286.2 812.8,284.8 816,289.8 825.2,288.5 827.2,293 840.2,290.2 843.8,290 845.5,295.5 850.5,298 861,299.8 862.2,300.5 874.2,303.8 875.2,306.5 876,307 879.5,297.5 886.8,291.8 897,286.8 903.8,285.5 907,284.2 904.2,271.2 907.8,269.8 907.5,269 909.5,264.5 911.5,257.2 911.8,250 907,253.5 885.8,257.5 885.8,276.2 876,278 874.8,276 873.8,271 871.2,252.5 868.8,247.5 858,253.2 858.5,257 860.2,262.2 859.5,263.2 844,265.2 830.2,264 829.2,263.2 830.5,249.5 830.5,245.5 829.2,237.8 823.2,237 816.5,244.5 818.8,245.8 821.8,248.8 821,257.5 810.8,265.5 804.2,268.8 800.5,270 799.5,270 796.5,268.5 789,268.8 783.5,270 777.5,275 778.5,280 772.2,297ZM536.2,280.5 535.8,276.8 530.2,275 528.2,271.8 530.8,266.2 531.2,258.8 526.2,253 523.2,242.8 510.2,238.5 509.5,237 508.2,230.2 490.2,232.8 477.8,233.5 477.2,232.5 475.5,216.5 474,209.5 450,210.2 449.2,206.5 437.2,206.5 417.5,207.8 416.8,219.8 412.5,221.5 412,225 411.2,226.5 394,227 395.2,251 394.2,251.5 360.5,250.8 361.5,216.5 357.8,216.8 356.8,227.8 354.2,230.8 349.8,228 346.5,221.8 335.5,223.2 334.8,221.5 332.2,221.8 330,230 300.2,225.2 300.2,233.2 310.5,234.8 311.2,235.8 313.5,243.2 316,255 315.2,265 322.2,268 323.2,269.8 359.2,272 359,281.5 361.2,281.8 362.2,283 368.5,286.8 371.5,294.5 369.5,302.5 364.8,311 360.5,311.8 359.5,310.8 358.2,310.5 358.2,319.2 399.5,319.5 399.8,283 400.8,274.2 400.2,251.2 428.8,251.5 433.2,252 480.2,251.2 481,253 477.8,258 477.5,259.2 482.8,264.5 483.8,271.2 483.5,273.2 484,274.5 484.2,280.8 501.8,281.2 512.2,283.2 531,281.5ZM920.2,133.8 917,134.5 909.2,141 905.5,137.5 904.5,137.8 902.2,145.2 900,157.5 899,175.2 895.8,191.8 891.8,195.5 887.5,197 887.2,203 888.2,208.5 885.5,219.2 884,234 889,235.5 892.8,238.5 893.5,238 895.5,233.8 896.2,225.2 900.2,218.2 900.5,216.8 909,205.2 920.8,192 930,179.2 940,169 938.8,166.8 929,137Z"/>
<path fill="#ffc800" fill-rule="evenodd" stroke="#ffc800" stroke-width="0.6" d="M750,380.5 746.8,382.5 744.5,387.8 743.8,393.5 740,397.8 740.8,402.2 747.5,410.8 754,414.2 753,415.5 754,415.8 755,415.2 759,416.8 760.5,416 765.2,415.2 766,414.8 760.2,407.5 761,402.2 764,396 768.2,391.8 769.2,388.5 765.8,386.8 760.2,381.5 757.2,383.2ZM553.5,371 552.8,381.8 553.8,389.8 559.8,409 565.5,414 566.8,418.2 566.2,421.2 575,423.2 579,422.2 586.2,421.5 593,416.5 596.8,415.8 599,418 600.5,420.8 600.2,425 606.5,427.2 615.5,434.5 618.8,442.2 621,445 625.2,447.5 625.8,451.8 620,458 645,456 647.2,452.2 700.5,444.2 702,435 704.8,430.2 713.2,420.2 715.8,415.2 719.2,411.2 722.2,406 722.2,400.2 720.5,395 711.2,393 702.2,387.8 698.5,389.8 696.8,394 695.2,395.2 688,398.5 686,404.2 681.8,408.2 681.8,414.8 679.2,417 672.5,414.2 669.5,417.2 668.8,420.8 668,421.5 666.2,420.5 661.5,421.2 659,424.2 651.8,422.5 650.5,422.5 648,424.2 643.5,423.5 641.8,429 643,433.5 636.2,438 636.5,439.2 638,441.2 636.2,443.2 631.8,440 631,428.5 623.5,428.5 622.8,427.8 622.2,426 622.5,423.8 621.5,410 612.2,411 606.5,412.5 601.8,411.8 596.8,406.8 591,402.8 586.5,395 580.8,388.5 581,387.5 586.2,386.5 595,383.2 597,379.5 603.5,378.2 606.5,381.2 612.2,380 618,381.2 621.5,386 622.2,385.5 626.8,379.5 628.2,370 626.5,361.8 619.8,358.2 618,350.8 612,351.8 601,352.5 596.2,354.2 586,353.5 582,355 582,359.2 580.2,366.5 576.2,372.8 571,369.2 556.2,370.8 554.2,370.5ZM593.8,333 588,327.5 580.8,328.5 557.5,330 558.5,347.2 564,346.5 570.5,348.2 575.2,350.8 580.8,352 584.8,348.2 590.8,344 594.5,337.2ZM762.8,327.2 764.2,340.8 765.5,347 767,349.5 770,359 779.5,357.5 780,358.5 780.8,358.5 780.8,357 787.5,356 789.8,366 792.2,365.5 793.8,363.2 795,363.8 794.5,364.5 795.2,370.5 796.8,375 794,382 794.2,383.2 795.8,383.5 797.8,381.5 798.8,381.2 797.8,380.2 799,375.2 799.8,373.8 804.2,369.8 805.5,370.5 807,378.5 806,379.5 807.2,380.5 808.2,384.5 809.2,385.2 814,386.2 821.8,386.5 825,377.8 831.8,372.5 832.5,373.8 832.2,375.2 835,378 839.5,380.5 850.8,378.8 851.2,375 845.8,366.8 844,360 843,351.2 845,343.8 844.8,343.2 839.5,343.5 838.8,344.2 813.2,349.5 813,348.2 813.8,345 814.8,344.2 816.5,339 813.8,337.2 813,333.5 811.5,334 812.8,332.5 811.8,329.2 798.5,330 797.8,330.8 793.5,331.2 791.5,328.2 786.2,327 784.2,327 781,328 779,328 772.5,326.2ZM714.5,347 725.2,345.2 726,338.5 731.8,336 735.8,331.5 737.2,328 736.5,325.2 733.2,325.8 726.2,328.5 721.5,327.8 712.5,325 712.2,326.8 714,346ZM782.5,293.8 782.8,299.8 783.2,300 798,298.8 804,297.2 806.2,297.2 809.8,310 822,305.5 825.5,308 832.2,309.8 836,312 838,316.2 844.2,314 844.8,311.8 846,311 850.5,314.5 854.5,319 858,320.8 860.2,320.2 861.8,321.2 862.2,322.5 861.5,323.5 863,324 865.2,326.2 862.2,332.2 857.2,339 853.5,341.5 852,346.2 848.5,352.2 847.2,356 849.8,358.5 849,362.5 851.5,365 851,369 852.2,371 856,373.2 858,371.5 858.8,372.2 861,379 864.2,378 865.8,378 867.2,378.8 869.8,371.5 870.8,365.8 870.5,365.2 869.5,365.2 860.5,368 859.5,367.5 855.5,350.8 855.5,346.5 856.5,346.2 859.5,347.2 868.8,348 870,348.8 871.8,352 872.5,351.2 874.2,344.2 878,337.2 879.5,329 877.5,318.2 874.2,315.2 876.2,310.2 875.8,307.2 875,306.5 874.5,304.2 861,300 850.5,298.2 845.2,295.5 843.8,290.2 840.2,290.5 827.2,293.2 825.2,288.8 816,290 812.8,285 804.5,286.5 802.8,289 801.2,287.8 799.8,288.8 790,290ZM713.5,272 712.5,271.2 708,270 703.2,273.5 700,280 696.2,282.2 691.5,281.2 692.5,285 690,287.2 689.5,292.5 697,291 706.2,286.8 709.8,289 719.2,287 719.8,286.2ZM588.2,194.2 578.2,193.8 568,191.8 560.5,195.8 559.5,195.8 547.2,191.2 540.5,187.8 533.5,185.8 536.8,221.8 535.8,222.8 526,222.8 524.8,227.8 516.8,230 515,239.8 523.5,242.8 526.5,253 531.2,258 531,266.2 528.5,271.2 530.2,274.8 535.8,276.5 538,275.2 540.8,271.5 545,264 542,257 542,255.5 543.2,250.5 549,243 549.8,229.2 553.2,228.2 555.2,226.8 572.2,205.8 579.5,200 586.8,196.2ZM945.8,169.8 940.2,169 931.5,177.8 921,192 909.2,205.2 900.8,216.8 900.8,217.8 896.5,225.2 895.8,233.8 893.8,238 892.8,238.8 889,235.8 883.8,234.2 883.5,236.2 884.5,238.8 886.5,257 907,253.2 911.8,249.8 922.2,222.8 923.8,220 929.2,214.2 935.5,202.8 940.8,203 951.5,194.8 956.5,189.8 959,185 958,180 954,177 948.5,175.5Z"/>
<path fill="#ff9600" fill-rule="evenodd" stroke="#ff9600" stroke-width="0.6" d="M508,288.8 508,289.5 511,291.2 512,292.5 511.5,305.8 517.8,306 518.2,323.5 518.8,326.5 552.8,325.2 553.2,326 553.5,329.8 554,330 580.8,328.2 588,327.2 594,333 594.8,337.2 591,344 584.8,348.5 581,352 581.8,355 586,353.2 596.2,354 601,352.2 612,351.5 617.8,350.5 618.5,351 620,358.2 626.8,361.8 628.5,370 627,379.5 622.5,385.5 621.5,386.2 618,381.5 613.8,380.2 606.5,381.5 603.5,378.5 597,379.8 595,383.5 586.2,386.8 581,387.8 581,388.5 586.8,395 591.2,402.8 596.8,406.5 601.8,411.5 606.5,412.2 612.2,410.8 621.5,409.8 622.8,423.8 622.5,426 623,427.8 623.5,428.2 631.2,428.5 632,440 636.2,443 637.8,441.2 636.2,439.2 636,438 639.8,435 642.8,433.5 641.5,429 643.5,423.2 648,424 650.5,422.2 651.8,422.2 659,424 661.5,421 666.2,420.2 668,421.2 669.2,417.2 672.5,414 679.2,416.8 681.5,414.8 681.5,408.2 685.8,404.2 687.8,398.5 695.2,395 696.5,394 698.2,389.8 702.2,387.5 711.2,392.8 720.2,394.8 726.2,394.2 733.2,391 735.5,392.2 736.5,394.2 740,397.5 743.5,393.5 744.2,387.8 746.5,382.5 750,380.2 757.2,383 760.2,381.2 765.8,386.5 769.5,388.5 774,386.2 779.2,380.8 783.8,371.2 782.5,365.5 782.2,360.5 781.8,358.8 780,358.8 779.5,357.8 771.2,359.2 769.8,359 766.8,349.5 765.5,348 764.8,344.8 762.8,327 772.5,326 779,327.8 781,327.8 784.2,326.8 786.2,326.8 791.5,328 792.5,328.8 793.5,331 796.8,330.8 798.5,329.8 811.8,329 813,332.5 811.8,334 813,333.2 814,337.2 816.8,339 815,344.2 814,345 813.2,349.2 814.8,349.2 838.8,344 839.5,343.2 841.2,343.5 851.2,341.2 853.5,341.2 857,339 862,332.2 865,326.5 863,324.2 861.2,323.5 862,322.5 861.5,321.2 860.2,320.5 858,321 854.5,319.2 850.5,314.8 846,311.2 845,311.8 844.2,314.2 838,316.5 837.2,315.8 836,312.2 832.2,310 825.5,308.2 822,305.8 809.8,310.2 806.2,297.5 804,297.5 798,299 769.8,301.2 758.8,309.8 743.5,318.2 736.8,325 737.5,328 736,331.5 731.8,336.2 726.2,338.5 725.8,345 725.2,345.5 714.5,347.2 713.8,346 712,325.2 712.8,323.2 713.2,317.8 717.5,308 718,302.5 718.5,302 720,302 722.5,295 721.5,288.5 720.8,287.2 719.8,286.8 719.2,287.2 709.8,289.2 706.2,287 697,291.2 690,293 689.2,292.5 689.8,287.2 692.2,285 691.2,282 690.8,275.5 697.5,273 698,269 700.8,264.8 699,248.5 696.2,244 695,243 672.2,236 669,238.8 668.5,243.2 670.2,243.8 670.2,244.8 666,248.8 660.8,251 659,255.2 655,259.2 652.8,263.8 652.8,271.5 651,277.5 650.2,285.2 652.8,288.2 657.8,300 657.8,301.2 660.2,308.2 658.5,318.2 655,330.2 649.5,334 644.5,336.5 642.5,335.5 638.8,332.2 632,319.2 621,320 617.8,319.8 615,320.5 598.8,321.8 586.8,323.8 585,322.2 580,313.2 575.8,307.8 573,301.8 552,304.5 542,304.8 541.5,303.2 540,281.8 536.2,280.8 528.8,282 511.5,283.5ZM542.2,257 545.2,264 562.2,264 563,265.8 563.2,270 563.8,270.5 576.5,268.2 577.2,269.8 578.5,278.5 587,273 602.5,271.2 613.5,272.2 621.8,271 623.8,270 628,264 630.2,263.2 628.8,261.5 628.5,260.2 629.2,259.5 633,246.8 634.8,242.8 637.5,242.2 639.5,239 643.2,242.5 645.2,238 650,235.8 656.2,231.5 661.2,229 666.8,229 671.2,232.2 673.5,230.5 678,228.2 683.5,228 684.5,227 684.5,226.2 679.5,222.8 676.5,217.8 671.5,219.2 666,219 664.8,213.2 662.8,213.2 658.2,215.2 648.5,217.5 642.2,221.5 635.5,222.5 630,224.5 626.8,220 622,216.8 613,216.8 610,218.8 607.5,213.2 605.8,211.2 600.5,216.5 587,223.8 580.5,228.5 573,227.8 572.5,227.2 571.8,222.5 571,221.5 562.8,224.2 556.8,227 555.2,227 553.2,228.5 550.2,229 549.2,243 543.5,250.5ZM469.5,180 470.2,195.5 474.8,210.5 477.8,233.2 490.2,232.5 508.2,230 510.2,238.2 514.8,239.8 516.8,229.8 524.8,227.5 525.5,223 526,222.5 536.2,222.2 533.2,185.5 526.2,186 523.2,187.5 520.2,185.2 511.8,184.2 508.2,182.8 507.2,179.5 505.8,170 500.5,170.2 500.2,177.2 499.2,178.2Z"/>
<path fill="#ff6400" fill-rule="evenodd" stroke="#ff6400" stroke-width="0.6" d="M634,264.2 630.8,263.5 628.5,264 623.2,270.8 613.5,272.5 612.2,282 612.5,296 611.5,296.5 602,297 590.2,296.2 588.8,295.5 587.8,287.5 587.5,279 586.2,273.8 578.5,278.8 578,278.2 576.5,268.5 563.8,270.8 563,270 562.2,264.2 545,264.2 538.5,275 536,276.5 536.5,280.5 540,281.5 540.5,282.2 542,304.5 552,304.2 573,301.5 576,307.8 580.2,313.2 585.2,322.2 586.8,323.5 598.8,321.5 615,320.2 617.8,319.5 631.5,319.2 632.2,318.5 631.2,295.8 632.2,285.2 631.8,282.2 633.5,271.5Z"/>
<path fill="#ff3200" fill-rule="evenodd" stroke="#ff3200" stroke-width="0.6" d="M613.2,272.5 602.5,271.5 587,273.2 586.5,273.8 587.8,279 588,287.5 589,295.5 599.2,296.8 612.2,296 612,282Z"/>
<path fill="none" stroke="#000" stroke-width="1.15" stroke-linejoin="round" stroke-linecap="round" d="M82.8,140.3 84.2,150.6 82.4,163.4 81.9,168 79.7,172.5 76,178.9 65.5,187.2 61.4,188.1 60.7,184.9 63.7,181.2 70.1,177.1 74.6,174.4 76.5,168 79,162.7M76,138.7 76.5,143.3 78.3,146 77.4,150.6 78.3,155.2 77.8,159.7 79,162.7M90.7,142.1 88.5,149.5 98.4,149.5 90.6,159.7 89.7,163.4 87.4,164.3 87,167 90.6,170.2 86.5,168.9 84.2,176.2 83.3,183.5 82.9,189 78.3,190.4 81.9,193.1 73.7,198.1 69.1,201.8 67.8,205M105.7,145.6 105.2,151.5 100.2,156.1 99.3,161.6 96.6,165.2 94.7,172.5 91.1,176.2 89.3,183.5 87.4,190.8 86.5,198.1 84.7,201.8 82.4,205M121.8,147.4 118.5,155.2 114.8,159.7 112.1,161.6 109.4,166.1 110.7,168.9 106.6,166.6 106.2,170.7 105.7,176.2 103,178.9M103,178.9 103.9,184.4 105.7,188.1 103.9,190.8 100.2,188.1 97.5,190.8 96.6,197.2 92,200.9 90.2,205M103,178.9 108.4,180.3 116.7,182.1 124,184.4 127.6,188.1 133.1,190.8 140,194.5M130.2,149.3 128.1,155.2 128.1,161.6 129.9,168.9 132.2,175.3 135.9,179.8 140,182.1M43,129.6 47.2,129.2 56,132.5 72.1,136.6 72.5,147.6 70.1,148.6 64.3,147.9 56,143.4 48.2,140.3 44,137.2 43,132.5 43,129.6M44,143.7 50.8,147.3 56,151.2 64.3,155.2 71.1,155.9 74.2,161.6 72.1,168.9 71.6,176.2 74.7,176.7 75.8,169.9 77.3,161.6 78.9,154.3 78.1,146 76.3,138.8M55.1,150.5 58.1,158.5 60.2,164.7 59.1,169.9 56,176.2 53.4,182.4 52.9,190.8 54.3,199.9M44,143.7 43,151.2 43.5,161.6 44.6,172 44,178.3 45.6,182.4 43.5,187.6 43,192.8 41.6,196.7M41.6,196.7 50,197.5 57.4,201.7 59.1,208.3 61.6,215 70.8,216.6 79.9,218.3 88.2,220 99.9,220 116.6,219.6 131.5,221 153.2,224.6M41.6,196.7 39.1,210 35.8,223.3 32.5,235 27.5,246.6 20.8,256.6 15.8,266.6 13.3,276.6 12.5,284.9 12.5,290.7 12,296.6 10,304.9 6.7,316.5 3.3,324.9 2,335M51.7,198.5 46.6,208.3 44.6,216.6 44.6,223.3 40,230 37.5,238.3 33.3,244.9 34.1,249.1 39.1,253.3 43,259.6M43,259.6 50,260.3 56.6,262.4 57.4,268.3 52.4,274.1 51.6,279.9 49.1,288.2 47.1,296.6M50,260.3 54.1,254.1 57.4,244.9 58.3,236.6 61.6,228.3 69.9,219.1 71.3,216.7M72.5,216.9 73.3,223.3 69.9,230 67.4,240 66.6,248.3 65.8,255.8 64.1,256.6M56.6,262.4 64.1,256.6M64.1,256.6 69.9,266.6 75.8,276.6 77.4,286.6 73.3,296.6 68.3,299.1 64.1,296.6 61.6,288.2 57.4,281.6 51.6,279.9M34.1,249.1 32.5,261.6 28.3,269.9 23.3,278.2 20.8,283.2 22.5,286.6 21.6,292.3M69.1,233.3 79.9,236.6 91.2,240 91.9,235.8 101.6,235.8 101.9,238.6 110.7,240.8M132.4,221.1 127.4,228.3 116.6,237.5 110.7,240.8M110.7,240.8 105.2,247.4 107.4,254.9 109.9,263.3 116.6,264.9 123.2,266.9M123.2,266.9 124.5,261.6 129.9,259.6 138.2,260.8 141.5,264.1 144.1,266.6M123.2,266.9 114.9,312.4M153.2,224.6 157,228 160.8,234.5 158.3,240.6 150.8,249.4 145.2,258.3 144,266.9 142.4,281.6 139,298.2 134.9,316.5M12.5,290.7 47.1,296.6 78.3,305.4 114.9,312.4 134.9,316.5 160,320.6M83.3,306.3 78.2,335M134.9,316.5 132.4,335M71,303.3 66.6,311.5 56.6,318.2 53.3,314.9 39.1,313.2 35.8,319.9 31.6,324.9 26.6,331.5 25,335M78,305.3 76.6,314.9 69.9,323.2 63.3,329.9 56.6,335M76,138.7 105.7,145.6 120,147M90.2,205 95.7,210 89.9,217.5 87.9,219.9M67.8,205 68.3,210 70.8,216.6M82.4,205 81.6,210 79.8,218.3M120,147 163.3,156.7 178.3,160 209.9,165.3 246.5,170 280,171.3M163.3,156.7 160.5,178.3 158,194.9 155.3,211.6 153,224.6M140,182.1 146.6,186.6 153.3,188.8 158.8,189.6M140,194.5 141.6,196.6M146.7,186.6 141.6,196.6 138.3,203.3 132.5,211.6 130.8,214.9 134.2,221.4M178.3,160 176.3,175.8 175.8,180.8 177.4,188.3 178.6,194.9 183.3,201.6 189.9,213.3 195.8,217.4 193.3,224.9 192.4,233.2 189.9,239.9 193.3,243.6 200.3,240.4M200.3,240.4 202.4,253.2 206.6,263.2 210.7,268.2 213.2,272.4 223.2,270.7 236.6,269 239.9,273.2 243.2,274.9M176.3,175.8 173.3,175.5 169.1,177.5 167.5,183.3 166.6,190 160.8,193.3 157.8,195.7M156.8,202.4 160,206.6 165.8,210.8 174.1,209.1 173.6,214.1 171.3,218.3 178.3,224.1 178.6,227.4 174.9,229.9 167.5,227.9 163.6,226.6 164.1,233.2 161.6,239.9 159.1,238.2 158,231.6 154.7,225.9M157,218.6 161.6,215.8 167.5,218.3 174.6,225.2 172.9,227.4 165,222.4 160,220.3 157,218.6M141.5,264 146.6,256.6 155.8,252.4 160.8,254.9 161.6,263.2 158.3,273.2 156.6,285M200.3,240.4 199.6,246.6 193.3,256.6 190.8,266.5 193.3,278.2 195.8,285 199.9,290.7M209.9,165.3 213.2,171.6 218.2,181.6 221.6,188.3 219.9,193.3 219.1,206.6 223.2,214.9 228.2,224.9 219.9,232.4 209.9,236.6 200.3,240.4M220.5,191.5 226.6,197.4 236.6,199.9 246.5,199.1 253.2,203.3 261.5,206.6 269.9,204.1 276.5,200.8 280.1,200.3M228.2,224.9 234.9,224.9 236.6,239.9 239.9,235.7 249.9,234.9 261.5,235.7 273.2,239.9 280,239.4M249.9,234.9 248.2,246.6 244,256.6 243.2,264 243.2,274.9M243.2,264 280,267.4M280,171.6 315,175.8 363.3,179.1 403.2,180.3 433.2,180.5 440,180.3M280,200.8 283.3,200.8 286.7,204.1 293.3,205.8 300,207.4 298.3,214.9 298.3,219.9 300,224.9 300,233.2 293.3,236.6 288.3,239.9 280,239.1M315,175.8 311.6,188.3 309.1,201.6 306.6,205.8 300,207.4M300,224.9 330,229.9 331.9,221.6 334.9,221.3 335.3,223.3 346.6,221.6 349.9,228.2 354.1,230.7 356.6,228.2 357.4,216.6 361.6,216.3M299.9,233.3 310.8,234.9 313.3,243.2 315.8,254.9 315,264.9 322.5,268.2 322.5,269.9M363.3,179.1 362.6,198.3 361.6,216.6 361.1,233.2 360.6,250.7 359.6,271.5 358.3,285M280,267.4 322.5,269.9 359.6,271.9M360.6,250.7 394.9,251.2 440,251.9M300.8,268.6 297.5,271.5 301.6,276.5 305,283.2 305.9,285M333.3,285 339.9,279.9 346.6,274.9 349.9,271.4M403.2,180.3 404,190 409,190.8 411.5,206.6M362.4,202.4 366.6,200.3 370.7,199.1 373.2,201.6 379.9,199.9 384.6,201.3 386.6,206.9 389.1,207.9 396.6,207.3 411.5,206.6 417.4,207.4 440,206.3M433.2,180.5 434,188.3 435.7,194.9 440,199.1M417.4,207.4 416.5,219.9 412.4,221.6 411.5,226.6 379.1,226.9 378.2,218.6 366.6,217.9 361.6,216.6M393.7,226.8 394.1,228.2 394.9,251.2M416.5,219.9 424,220.3 425.7,235.7 427.4,236.2 428.2,251.7M425.7,235.7 440,235.7M399.9,251.3 400.7,273.2 399.9,283.5M359.5,281.5 399.9,283.5M400.7,273.2 440,274M440,180.3 469.1,179.6 499.9,178 500.3,170 505.8,169.6 507.9,182.5 511.6,184.1 519.9,185 523.3,187.5 526.6,185.8 533.2,185.3 539.9,187.5 546.6,190.8 553.2,193.3 559.9,195.8 568.2,191.6 578.2,193.6 589,194.1 586.5,196.6 579.9,199.9 571.5,206.6 564.9,214.9 556.6,224.9 553.2,228.2 549.9,229.1M553.2,228.2 563.2,224.1 571.5,221.3 572.9,227.4 580.7,228.2 584.9,224.9 593.2,219.9 600,216.6M469.1,179.6 470,194.9 474.1,209.1 475.8,218.3 477.5,233.2 480,246.6 480.8,253.2 477,259 482.5,264 483.6,271.5 484.2,285M440,199.1 444.2,200.3 449.2,204.6 449.7,209.9 474.2,209.6M440,206.3 449.3,206.6M449.7,209.9 450.8,235.2M440,235.7 450.8,235.2 477.6,233.8M440,251.9 480.5,251.2M440,274 483.7,273.2M442.5,251.8 442,285M502.9,183.6 495.3,188.3 495.8,199.1 500.3,199.6 501.9,211.6 502.9,226.6 503.3,230.7M477.5,233.3 490,232.4 503.3,230.7M533.2,185.3 534.9,206.6 536.6,222.4 537.4,228.2 549.9,229.1M503.3,230.7 508.3,229.9 509.9,238.2 514.9,239.9 516.6,229.9 524.9,227.4 525.7,222.4 536.6,222.4M503.3,230.7 504.1,256.6 503.3,273.2 500.8,276.5 501.6,281.5M514.9,239.9 523.3,242.4 526.6,253.2 531.2,258.2 530.7,266.5 528.2,271.5 529.9,274.9 535.7,276.5 538.4,275M501.6,281.5 511.6,283.2 530.7,281.5 536.6,280.7 535.7,276.5M549.9,229.1 549.1,243.2 543.2,250.7 541.9,256.6 544.9,264 540.7,271.5 538.2,274.9 543.2,278.2 549.9,281.5 557.4,285M572.9,227.4 574.5,243.2 576.9,244.1 577.9,256.6 576.9,268.2 563.2,270.7 562.4,264 544.9,264M576.9,268.2 578.2,279 586.5,273.2 600,271.5M581.4,227.7 600,236.2M586.5,273.2 588.5,285M600,216.9 605.8,210.8 607.5,213.3 610,219.1 613.3,216.6 621.6,216.6 626.6,219.9 630,224.6 635,222.4 641.6,221.6 648.3,217.4 658.3,214.9 663.3,212.9 665.3,213.3 665.8,219.1 671.6,219.1 676.6,217.4 679.9,223.3 684.9,226.6 683.3,228.2 678.3,228.2 673.3,230.7 671.6,232.4 666.6,229.1 661.6,229.1 656.6,231.6 650,235.7 645,238.2 643.3,243.2 640.8,239.9 639.1,239.1 637.5,242.4 635,242.4 634.1,244.9 633.3,246.6 630.8,254.9 628.6,261.2 630.8,263.5 634.1,264 633.3,273.2 631,285.1M630,224.6 630.8,234.9 634.2,244.5M600,236.2 604.2,238.2 616.7,239.1 620.8,241.6 623.3,244.9 625,252.4 627.1,254.9 628,259.9 628.6,261.2M603.5,237.9 603.7,251.2 600,251.2M602.5,260.7 602.5,260.7 603,271.5M600,271.5 603,271.5 613.3,272.4 623.3,270.7 625,268.2 628,264 630.8,263.5M613.3,272.4 611.8,285M672.4,235.7 669.1,238.2 668.3,243.2 670.8,244.1 666.6,248.2 663.3,249.9 660.8,250.7 659.1,254.9 654.9,259 652.4,264 652.4,271.5 650.8,278.2 650,285M672.4,235.7 674.9,236.6 686.6,239.9 695.7,243.2 699.1,248.2 699.9,256.6 700.7,264.9 698.2,269 697.4,273.2 693.2,274.9 690.7,275.2 691.6,280.7 695.7,282.4 699.9,279.9 703.2,273.2 708.2,269.9 713.2,271.5 716.6,278.2 719.1,285M674.9,236.6 678.3,271.5M651.6,275 678.3,271.5 698.3,268.9M667.4,273.1 668.6,285M690.7,275.2 691.2,281.5 692.4,285M834.3,218 846.9,215.5 858.6,211.3 867,208.8 887.1,202.4 887.1,197.1 891.3,195.4 895.5,192 896.3,188.7 898.9,175.3 899.7,158.5 902.2,145.1 904.7,136.7 908.9,140.9 911.4,138.4 917.3,134.2 919.8,133.4 929,136.7 932.4,146.8 939.1,166.9 939.9,168.9 945.8,169.4 948.3,175.3 954.2,176.9 958.3,180.3 959.2,184.5 956.7,189.5 951.6,194.5 945.8,199.6 939.9,203.4 935.7,202.4 933.2,207.1 929,214.6 924,219.7 921,225.5 918.1,233.9 915.3,241.5 913.3,246 912.3,249 911.4,257.4 909.8,264.1 907.2,270M939.9,168.9 930.7,178.6 920.6,192 908.9,205.4 900.5,217.2 896.3,225.5 895.5,233.9 893,238.9 888.8,235.6 883.8,233.8M957.4,179.6 945.8,187.8 934,198.7 924,213.8 917.3,225.5 913.1,235.6 911.1,242.2M891.9,194.9 900.5,217.2 907.2,235.6 913.4,245.8M887.1,202.4 888,208.8 885.5,218.8 884.6,225.5 883.8,233.9 884.6,242.3 885.5,250.7 886.3,257.4M867,208.8 868.7,218.8 871.2,232.2 873.7,242.3 876.2,252.3 877.1,259.9M883.9,233.2 881.3,242.3 877.9,244.3 873.8,242.7M877.1,259.9 886.3,257.4 907.2,253.2 912.3,249M834.3,218 829.3,223.9 825.1,230.6 823.1,236.9 820.1,240.6 815.9,244.8 818.4,245.6 821.8,249 820.9,257.4 816.8,260.7 810.1,265.8 805,268.3 800,270.1M845.2,215.8 847.8,218.8 843.6,225.5 836,232.2 829.3,237.3 823.1,236.9M847.8,218.8 851.9,225.5 856.1,235.6 858.6,245.6 859.5,252.3 857.8,253.2M858.6,211.3 860.3,218.8 863.7,225.5 862.8,232.2 865.3,240.6 867.9,242.3 868.7,247.3M857.8,253.2 868.7,247.3 871.2,252.3 873.7,270.1M857.8,253.2 858.6,257.4 862,270.1M821.2,254.9 830.2,254.9 841.9,254 858.6,257.3M829.3,237.3 830.5,245.6 830.2,254.9 829.5,263.7 843.6,265.1 860.2,263.1M2,335 4.7,340 5,346.7 4.2,360 8.3,370 12.5,378.3 14.2,384.9 20.8,385.8 19.1,396.6 21.6,404.9 25,413.3 23.3,420.7 26.6,433.2 31.6,446.6 36.6,456.5 37.5,463.2 37,475M21.6,387.4 24.1,386.3 25,393.3 25.8,399.1 23.3,398.3 21.6,393.3 21.6,387.4M25,335 25,338.3 23.3,346.7 25,353.3 20,360.8 22.5,366.6 28.3,371.6 34.1,378.3 35.3,386.6M56.6,335 63.3,343.3 69.9,351.6 70.8,356.6 64.9,360.8 65.8,368.3 68.3,376.1M78.3,335 68.3,376.1 89.9,403.3 143.2,475M20.7,386.3 35.3,386.6 39.1,383.3 48.3,375.8 56.6,375 68.3,376.1 71.6,384.9 73.3,393.3 76.6,399.9 79.9,406.6 83.3,414.9 86.6,424.9 89.9,438.2 90.7,446.6 88.2,456.5 81.6,466.5 78.3,470.7 73.3,471.5 63.3,468.2 53.3,458.2 51.6,446.6 46.6,436.6 44.1,426.6 40,413.3 37.5,399.9 35.3,386.6M53.3,458.2 47.5,457 40.8,460.7 37.4,462.4M79.9,406.6 86.6,405.8 89.3,402.5M132.4,335 129.9,347.5 122.4,348.3 116.6,360 118.2,365 114.9,371.6 111.6,378.6M79.1,389.7 86.9,388.3 89.9,377 111.6,378.6 141.5,384.9 153.2,396.6 160,398.2M111.9,432.9 117.4,428.2 133.2,444.9 134,453.2 138.2,454.9 139.9,444.9 144.9,441.6 147.4,429.1 153.2,431.6 158.2,428.2 160.7,438M160,457.4 154,459 152.4,475M160,320.7 185,324.6 211.6,329.1 235.8,331.9M185,324.6 181.6,346.6 176.7,379.9 170.8,425M243.2,274.8 241.6,280 239.9,300 238.3,320 235.8,331.9 234.1,354.9M234.1,354.9 267.4,359.6 306.5,362.4 320,362.8M267.4,359.6 264.9,388.2 262.4,425M260.8,284.1 259.9,289.2 256.6,291.7 258.2,296.7 259.9,301.6 254.9,302.5 252.4,307.5 246.6,309.1 244.1,312.5 243.3,320 238.3,320M262.4,284.2 263.2,287.5 276.6,295.8 286.5,300.8 296.5,304.1 303.2,304.6 306.5,300 308.2,290 305.8,285M259.9,301.6 263.2,310 269.9,320 274.9,322.5 283.2,326.6 288.2,321.6 293.2,322.5 299,319.6 303.5,313.3 303.2,304.6M269.9,320 270.7,324.1 273.2,330 276.6,336.6 286.5,341.6 293.2,348.3 298.2,353.3 301.5,359.9 303.2,362.2M299,319.6 306.5,317.5 314.8,318.6 320,319.1M307.4,362.4 309,371.6 313.2,375.7 320,374.9M211.6,329.1 210.8,343.3 208.3,353.3 200.8,361.6 201.6,368.2 206.6,376.6 208.3,382.4 201.6,393.2 195.8,406.5 191.6,413.2 189.1,423.2 178.3,425M226.6,330.9 225.8,335.8 220.3,337.4 219.1,349.9 218.3,363.3 220.8,373.2 220.8,383.2 216.6,382.9 210,381.9 208.3,382.4M220.8,383.2 224.1,388.2 228.3,393.2 233.3,388.2 238.3,386.6 243.3,384.9 241.6,378.2 243.3,370.7 253.2,369.1 266.7,367.4M243.3,384.9 246.6,390.7 253.2,393.2 259.9,391.6 264.8,389.1M228.3,393.2 224.1,398.2 222.4,406.5 221.6,414.9 223.3,419.9 231.6,421.5 233.2,425M156.6,285 158.8,284.7 161.6,291.1 165.2,294.8 169.8,297.5 176.2,296.6 183.5,293.9 189,291.6 195,289.8M141.7,284.8 145.1,291.1 151.5,297.5 158.8,302.1 168,303.5 169.8,297.5M168,303.5 172.5,308.5 175.3,312.2 180.8,315.8 185.3,319.5 193,318.6M195,290.2 200,287 207.5,285 212.1,282.2 214,276.5 213.2,272.4M195.9,285.2 200,287M214,274.9 220.6,274.2 228.1,276.1 232.7,278.4 235.1,280.3 230.9,286.8 225.2,295.3 219.6,303.7 214,310.2 207.5,314.9 200.9,319.6 197.2,321 194.3,320.1 192.9,318.7 196.2,314.9 198.1,307.4 197.6,299 195.3,289.2 200,287 207.5,285 212.1,282.2 214,276.5 214,274.9M185.5,319.5 185,324.8M243.2,275.1 244.9,277 247.7,273.7 249.6,275.1 251.5,279.3 254.3,282.2 260,284 262.4,284.2M160,398.3 174,400.2M333.3,285 334.2,281.7M334.2,281.7 330.3,286.7 328.3,296.7 327.5,301.6 323.3,306.6 322,313.3 321.4,319.4M327.5,301.6 336.7,297.5 343.3,295.8 345,292 350.8,292 357.5,294.2 358.5,294.2M320,319.1 328.3,320.8 338.3,324.1 346.6,328.3 353.3,333.3 357.2,335M320,327.5 325,331.6 328.3,341.6 330,353.3 330.3,363.1M358.3,285 358,319.1 355.8,364.1M360,281.7 368.3,286.7 371.6,295 369.1,303.3 365,310.8 360.8,311.6 358.5,310 358.5,294.2 359,281.3 360,281.7M399.9,283.5 399.6,319.6M442,285 443.2,320M399.7,302.5 406.6,300.8 410.7,302.5 416.6,304.1 423.2,304.6 429.9,305 431.9,309.1 442.9,310M442.5,298 480,296.3M358,319.1 399.6,319.6 443.2,320 454.5,320.5 455.2,323.6 461.5,323 469.9,323.6 476.5,324.6 480,325.8M320,362.8 355.8,364.1 389.9,365.7 390.8,389.1 422.4,389.1 454.9,388.6 480,387.9M391.6,319.5 391.9,330 391.6,338.3 392.4,346.6 391.3,357.4 389.9,365.7M391.3,357.4 421.6,356.9 421.9,349.6 455.5,348.6M421.6,356.9 422.4,372.4 426.6,373.2 423.2,379.9 422.9,389M422.4,372.4 429.9,372.9 436.6,374.1 446.5,372.4 455.2,372.4M454.5,320.5 455.7,353.3 455.2,371.2 455.7,388.5M455.7,353.3 462.4,351.6 463.2,347.4 480,346.3M455.2,371.2 479,370.9M390.8,389.1 389.9,425M433.6,388.9 434.1,425M390.3,409 419.9,408.2 433.8,407.4M433.8,407.4 453.2,404 462.4,403.2 464,409.9 473.2,409.9 473.5,404 480.1,403.2M320,374.9 324.2,373.2 326.7,379.9 325,386.6 321.7,389.9 323.3,394.9 320,396.6M390,367.4 384.9,367.4 379.9,370.7 373.3,373.2 370.8,379.9 370,386.6 366.6,393.2 363.3,398.2 360,403.2 350,408.2 336.7,408.2 333.3,411.5 323.3,414 320,413.2M360,403.2 366.6,406.5 376.6,411.5 379.9,413.2 383.3,421.5 385.8,425M484,280.7 501.6,281.5 511.6,283.2M511.6,283.2 507.5,289.2 511.6,292 511.2,306.1M536.6,280.7 540.3,281.7 540.8,290 541.6,304.6M557.4,285 559.9,285 566.6,291.7 571.6,296.7 573.2,301.6 575.7,307.5 579.9,313.3 585.2,322.5 586.6,323.6 588.2,327.5 594.1,333.3 594.6,337.4 590.7,344.1 584.9,348.3 580.7,351.9 581.9,358.3 579.9,366.6 576.2,372.7 577.4,379.9 580.7,388.2 586.6,394.9 591.6,403.2 596.6,406.5 601.5,411.5 600.7,418.2 599.9,425M484.2,307.5 517.5,305.8 551.6,304.1 573.2,301.6M484.1,285 484.2,307.5 485.8,313.3 484.2,320 485.8,328.3 488.3,334.9 490.8,343.3 494.2,351.6 496.7,358.3 498.3,366.6 500.8,374.6 505,383.2 510,388.2 515,389.9 514.1,396.6 518.3,403.2 521.6,408.2 522.8,411.5M500.8,374.6 521.6,372.6 553.3,370.7 570.7,369.1 576.2,372.7M517.5,305.8 518.3,326.6M551.6,304.1 553.3,330M485.9,328.6 518.3,326.6 553,325.2M553.3,330 579.9,328.3 588.2,327.5M518.6,326.6 520,330 523.3,331.6 524.1,341.6 522.5,346.6 523.6,351.6M494.5,352.6 523.6,351.6 548.3,349.6 558.3,347.4 563.3,346.6 569.9,348.3 574.9,350.8 580.7,351.9M553.3,330 557.4,330 558.3,347.4M523.6,351.6 520.8,359.9 521.6,372.6M548.3,349.6 553.3,353.3 554.1,370.7M571.7,296.9 588.2,295.8 599.9,296.7 621.5,295.8 631.5,295.3M587,280.1 589.1,295.9M612.3,280.1 612.4,296.2M599.9,296.7 599,321.6M621.5,295.8 620.7,306.6 617.4,313.3 618.2,319.6M632.6,280.2 631.5,295.3 632.3,319.1 636.5,328.3 639.8,333.7M586.6,323.6 599,321.6 618.2,319.6 632.3,319.1M615.2,319.9 613.2,343.3 618.2,350.8M581.3,355.2 586.6,353.3 596.6,354.1 599.9,352.4 611.5,351.6 618.2,350.8 629.9,348.3 635.7,344.1 640,343.4M599.9,352.4 600.7,363.3 603.2,366.6 601.5,373.2 596.6,379.9 594.9,383.2 586.6,386.6 580.5,387.8M618.2,350.8 619.9,358.3 626.5,361.6 628.2,369.9 626.5,379.9 621.5,386.6M596.6,379.9 603.2,378.2 606.5,381.6 613.2,379.9 618.2,381.6 621.5,386.6 620.7,396.6 621.5,409.9M601.5,411.5 606.5,412.4 613.2,410.7 621.5,409.9 640.1,408.9M621.5,409.9 622.4,425M553.3,370.7 552.4,379.9 553.3,388.2 555.8,396.6 558.3,404.9 551.6,405.7 550.8,408.2 534.9,409 522.8,411.5M558.3,404.9 559.9,409.9 564.9,413.2 566.6,418.2 565.1,424.8M566.2,421.4 574.9,423.2 579.9,422.4 586.6,421.5 593.2,416.5 596.6,415.7 599,418.2 600.3,421.5M522.8,411.5 521.6,425M480,296.3 484.2,296.7M480,325.8 485.8,328.3M480,346.3 492.4,347.3M479,370.8 479.5,374.6 485.8,374.9 486.3,370.7 499.1,369M480,387.9 505.8,386.6 510,388.2M480,403.5 482.5,408.2 490,409 491.7,404.9 505,404.9 506.6,408.2 521.5,408M481.3,387.8 481.7,396.6 480,403.2M482.5,408.2 483.7,425M626.6,379.5 636,378.1M639.7,332.9 644.3,336.4 649.5,333.8 654.7,330.2 656.3,325M654.2,330.6 670.9,329.4 687,327.3 700.5,325.4M641.9,335 642.2,343.7 644.8,361.9 646.4,377 647.4,391.6 645.9,394.2 648.5,402 647.2,408.2 644.8,415.1M636.1,344 642.2,343.2M636,377.9 646.4,376.8M635.9,408.6 647.2,408.3M657.3,331.7 658.1,340.6 659.4,348.9 658.1,354.1 656.8,358.5M644.8,361.9 650.6,361.1 651.6,359.3 656.8,358.5 658.4,361.4 663.3,360.9 663.6,358.5 671.4,357.3 671.9,355.4 679.2,356 691.2,355.2M671.2,329.3 672.4,337.5 674,345.8 675.5,355.7M687,327.3 689.1,340.6 691.2,355.2 692.7,364.5 694.3,379.1 695.8,387.4 696.9,393.7M658.4,361.4 659.9,369.7 662,379.1 663.3,386.4M647.4,391.6 652.6,390.6 653.2,391.6 662,390.8 663.3,386.4M679.2,356 679.2,361.4 677.6,361.9 679.2,372.9 684.9,374.9 685.9,379.1 687,385.4 683.9,389 680.7,390 679.2,392.1 674.5,391.6 673.5,387.4 663.3,386.4M685.9,379.1 694.3,379.1M662,390.8 663.3,397.8 664.6,408.2 665.7,415.1M679.2,392.1 679.7,397.8 678.7,406.2 681.8,408.2 681.3,411.4 681.8,415.1M681.8,408.2 685.9,404.1 688,398.4 694.3,395.8 696.9,393.7 698.4,389.5 702.6,387.4 706.8,390.6 710.9,392.6 717.7,394.2 720.3,394.7 726.5,394.2 729.7,392.6 732.8,391.1 736,392.6M690.6,351 698.4,350 706.8,349.8 707.3,346.9 714,345.8M711.9,325 713,335.4 714,345.8 715.6,356.2 716.1,370.3M693.4,370.5 703.6,368.2 708.8,369.2 716.1,370.3 718.2,377 721.3,378.1 720.8,385.4 718.2,387.4 717.7,394.2M714,345.8 715.1,347.4 725.5,345.3 726,338.5 731.7,335.4 736.1,331.3M725.5,345.3 728.6,345.8 729.7,353.1 727.6,354.1 732.8,355.2 736,354.7M718.2,377 722.4,374.9 730.7,373.9 731.7,369.7 736,367.7M720.3,394.7 722.4,399.9 722.4,406.2 719.2,411.4 716.1,415.2M683.8,406.3 690.1,411.4 692.6,415.2M650,285 652.5,288.3 656.7,298.3 660,308.3 658.3,318.3 655.8,326.6M700.5,325.5 712.4,324.9M668.6,285 670.8,294.6M657.3,300.4 665,298.6 666.6,295 675.8,294.1 689.1,293 697.4,290.8 706.6,286.7 709.9,289.1 720.4,286.7M692.4,285 690,286.7 689.1,293M675.8,294.1 674.1,303.3 673.3,310 677,314.1 676.6,320 671.6,323.3 671.7,329.3M697.3,290.8 695.8,303.3 697.4,318.3 694.9,321.6 694,326.4M719,285 721.6,288.3 722.4,295 719.9,302.5 718.3,301.6 717.4,308.3 713.3,318.3 712.4,324.9M783.2,270 790,268.5 796,268.3 800,270.1M800,298.3 843.9,289.6 845.2,295.5 850.3,298 858.6,299.5 856.1,303.9 855.3,312.3 857.8,317.3 865.3,326.2 862,332.4 857,339.1 853.6,341.1M799.3,352.6 830.2,345.8 853.6,341.1 855.3,345.8M858.6,299.5 874.6,303.9 876.2,310.6 874,315.6 877.4,318.1 879.6,329 877.9,337.4 874.6,344.1 872,353.3 869.5,348.3 857.8,347.1 855.3,345.8M856.2,320.1 868.7,322.3 875,316.3M862,270 864.5,278.8 866.2,287.1 865,294.7 861.1,299.7 858.6,299.5M873.7,270 875.4,278.8 877.9,295.5 879.6,298 877.1,303.9 875.4,312.5M877.1,259.8 876.2,277.8M879.6,298 887.1,292.2 897.2,287.1 907.2,284.6M875.2,278 885.4,276.2 903.9,271.2 910.6,269.5 912.5,273.3M885.5,257.6 885.4,276.2M904.2,271.1 907.2,284.6M907.3,270.1 910.6,269.5M874,315.3 878.7,305.9 887.1,300.9 898.8,294.2 908.9,291.3 907.2,295.5 897.2,300.9 887.1,307.6 877.9,315.9 874,315.3M806.3,297.2 809.7,310.2 800,309.1M809.7,310.2 815.1,308.1 821.8,305.6 825.1,308.1 831.8,309.7 840.2,304.7 841,298 844,290.1M840.2,304.7 836,312.3 837.7,316.4 844.4,313.9 845.2,310.6 850.3,314.8 855.3,312.3M809.7,310.2 811.7,312.3 818.4,317.3 820.1,320.6 815.1,327.3 811.7,329 800,329.8M831.8,309.7 836,312.3M836,319 830.2,326.5 831,330.7 827.6,334 816.8,339.1 814.2,337.4 811.7,329M837.7,316.4 836,319M850.3,314.8 854.4,319 848.6,324 840.2,320.6 833.5,327.3 830.2,326.5M854.4,319 865.3,326.2M816.8,339.1 814.2,345.8 813.1,349.6M827.6,334 840.2,343.7M822.6,347.8 825.1,359.2 832.7,362.5 834.7,364.3M800,373.4 805,369.2 808.4,359.2 815.1,362.5 821.8,357.5 822.6,347.8M832.7,362.5 831.8,372.6 825.1,377.6 821.8,386.8 808.4,385.1 805,369.2M855.3,345.8 856.1,348.7 862.5,352.4 867.6,357.9 869.8,361.5 870.9,364.7M855.3,345.8 855.2,348.7 859.8,367.9 870.9,364.7M870.9,364.7 869.8,371.6 868,376.1 867.6,378.9 867.1,386.2 864.8,393.5 863.4,399 862.1,397.2 862.5,389.8 863.4,382.5 860.7,378.9 858.9,373.4 858,370.6M860.7,378.9 865.3,378 867.6,378.9M853.6,341.1 851.6,346.9 848.8,351.5 847,356 849.7,358.8 848.8,362.4 851.6,365.2 850.6,368.8 852.5,371.6 856.1,373.4 858,370.6 859.8,367.9M834.8,364 832.8,371.6 831.9,375.2 834.7,378 839.7,380.7 846.1,379.8 850.6,378.9M782.5,300 782.2,293.7 790,290.1 800,288.6 801.4,287.5 802.5,289.5 804,286.4 812.9,284.9 816,290.1 825.4,288.5 826.4,291.9M790,290.1 788.4,283.8 796.2,281.2 797.3,277.6 802.5,277.1 804.5,274.5 809.7,272.4 817,269.8 822.2,265.6 827.4,264 831.6,269.8 826.4,275 829.5,285.4 826.4,291.9M829.5,263.7 829,262.5 827.4,264M907.2,284.6 912.9,282.5 913.3,278.3 911.6,274.1 912.5,273.3 915,275.8 917.5,279.1 920,276.6 923.3,275 925,276.6 923.3,279.1 925,280.8 930,279.1 931.6,277 929.1,276.6 928.3,274.1 931.6,270.8 936.2,268.3 936.6,271.6 937.4,270.8 937,265.8 934.1,261.6 930,260.8 932.4,261.2 934.9,263.3 935.8,266.6 931.6,268.7 927.5,268.3 924.1,265.8 922.5,262.5 920,260 916.6,259.6 915,257.5 916.6,255.8 917.5,252.5 920.8,251.7 920.4,250.4 916.6,250 913.1,246.6M876.6,277.8 878.3,288.3 881.7,290.4 885,288.3 886.7,285 885.4,281.6 885.4,275.8M879,297.1 886.7,291.6 892.5,288.3 898.3,286 903.2,285.6M712.4,324.9 718.3,326.6 721.6,327.4 726.6,328.3 733.2,325.8 736.6,324.9 743.2,318.3 753.2,312.5 759,309.1 766.5,303.3 769.5,301.3 771.5,298.3 774.9,290 778.2,280 777.4,275 783.2,270M769.5,301.3 800,298.5M736,331.2 737.4,327.4 736.6,324.9M736.6,329.8 746.6,327.9 754.9,328.8 763.2,327M726.6,338.2 735.7,334.9 744.1,335.3 746.6,327.9M744.1,335.3 745.7,352.4 765.1,350M729.1,353.4 738.2,354.1 745.7,352.4M738.2,354.1 736.6,363.2 734.9,368.2 732.4,369.9 733,379.3M758.9,309.2 762.3,325M786.5,310 800,309.1M786.5,310 788.2,320 785.7,327.4M785.7,327.4 800,329.8M762.4,324.9 764.3,341.6 765.4,345.8 770.1,359.3 796.6,354.1 799.5,353.4M764.2,340.5 765.2,348.9 764.9,358.3 761.2,366.6 755,371.3 751.3,376 750.3,380.2 746.6,382.2 744.6,387.4 743.5,393.7 739.9,397.8 736.2,394.2 736,392.6M770.1,360.9 782,358.3 782.5,364.5 784.1,370.8 781,377 778.9,381.2 773.7,386.4 769.5,388.5 765.4,386.4 760.2,381.2 759.7,376 761.2,369.7 765.4,365.6 770.1,360.9M750.3,380.2 755,382 757.6,383.3 760.3,381.3M736,354.7 737.8,355.2 737.5,357.3 734.2,363.5 736.5,366.6 731.6,371.8 731.9,379.1 739.4,380.7 749.8,377.8 751.3,376M729.9,336.4 744,335.4 745.1,331.2 755,329.2 762.5,327.1M744,335.4 746.1,350 747.2,352.3 765,348.3M737.8,355.2 747.2,352.3M736,367.7 736.5,366.6M739.9,397.8 740.4,402 746.6,410.3 750.8,415.1M769.5,388.5 768.5,391.6 764.3,395.8 761.2,402 760.2,407.2 764.3,412.4 766.4,415.1M787.4,355.9 789.8,366.6 792.4,365.6 796.1,359.3 796.6,354.1M796.5,355.2 797.6,359.3 794.5,364.5 795,369.7 796.6,374.9 793.5,383.3 796.6,384.3 799.2,374.9 800,373.4M789.8,366.6 788.3,368.7 789.3,374.9 786.2,383.3 788.3,391.6 786.2,396.8 784.1,406.2 782.5,411.4 774.9,415.5M762.5,327.1 771.6,326 779.9,328.1 786.2,326.6 791.4,328.1 793.5,331.2 792.4,336.4 791.4,342.2 797.1,342.7 798.2,347.9 799.5,353.4M793.5,331.2 802.8,329.7 810.1,329.2 811.7,334.4 814.3,338.5 813.2,345.8 812.7,349.7M750.8,415.1 758.1,416.8 766.4,415.1M37,475 39.1,475 46.6,477.5 55.8,481.7 61.6,488.3 70,491.6 74.1,493.3 74.9,499.1 81.6,502.5 86.6,510 90.8,518.3 91.6,526.6 93.3,531.6 106.6,532.8 144,535.3 138.2,539.9 163.2,553.3 180,562.7M73.3,471.5 83.3,480 86.6,486.7 93.3,486.7 96.6,491.6 103.3,490 108.2,490 106.6,495 101.6,500 103.3,510 104.1,518.3 106.6,532.8M143.2,475 150.7,484.2M152.4,475 150.7,484.2 153.2,493.3 156.5,501.6 151.5,504.1 148.2,511.6 146.5,518.3 142.4,520 143.2,528.3 145.7,531.6 144,535.3M156.5,501.6 171.1,502.5M176.5,465.1 175.7,470 169.9,511.6 166.5,543.3 163.2,553.3M170.3,510.8 179.6,513.2M166.5,543.3 179.9,545.9M170.8,425 168.3,440 166.7,450 165,459.1 160.8,461.3 152.9,469.9M168.3,440 210,444.1 259.9,450.8 304.9,454.1 320,455.3M160,436.6 166.7,435 176.7,433.3 185,434.2 188.3,436.7 184.9,441.6M178.3,425 176.7,430 178,433.5M210,444.1 214.9,438.3 223.3,431.7 229.9,426.7 233.2,425M262.4,425 259.9,450.8 257.4,486.6 254.9,506.6 251.6,536.6 249.1,565M310.7,419.9 304.9,425 298.2,430 288.2,435 291.5,438.3 298.2,441.6 303.2,446.6 305.7,454.2M297.4,453.6 296.5,470 288.2,474.9 283.2,480.8 278.2,485.8 289.9,487.4 293.2,489.1 301.5,489.9 308.2,493.3 320,493.3M254.9,506.6 268.2,505.7 269.1,494.1 268.2,488.3 278.2,485.8M289.9,487.4 289,495.8 284,499.9 284.9,509.9 287.4,519.9 283.2,529.9 276.6,538.2 274.9,551.5 271.6,554 266.6,550.7 263.2,544.9 258.2,534.9 255.7,528.2 251.8,534.9M293.2,489.1 296.5,493.3 301.5,498.3 303.2,506.6 302.4,514.9 297.4,519.9 298.2,523.2 304.9,521.6 306.5,526.6 303.2,534.9 301.5,544.9 299.9,553.2 298.2,565M288.2,538.2 286.5,549.9 293.2,553.2 294.9,565M193.3,442.5 190,455.8 176.7,464.1 175.3,475.8 170,510.7 165,544 162.6,553M175.3,475.8 185,480.8 190.8,484.9 193.3,489.9 200.8,492.4 204.1,498.3 205,505.7 214.9,507.4 218.3,514.9 231.6,516.6 232.4,528.2 243.3,524.9 252.9,524.2M170,510.7 186.6,514.9 190,512.4 203.3,513.2 201.6,506.6 205,505.7M203.3,513.2 206.6,519.9 211.6,526.6 214.9,538.2 221.6,534.9 223.3,529.9 232.4,528.2M165,544 198.3,548.2 219.9,550.7 221.6,534.9M160.3,551.7 182.3,563.9M320,455.3 370,458 388.3,458.3 434.9,458.8 480,458M389.9,425 388.6,429.2 388.3,458.3M385.8,425 388.6,429.2M388.6,429.2 429.9,428.3 434.1,427 444,427 444.9,429.2 454.9,430.8 478.2,430 479,431.1M434.1,425 434.9,458.8M478.2,430 478.5,458M369.6,457.9 368.3,503.3 366.6,538.2 365,565M369.3,469.1 425.7,470 425.7,514.9 429.9,516.6 434.9,519.9 439.9,519.9 446.5,524.1 454.9,525.7 461.5,524.1 466.5,529.1 473.2,529.9 480,531.6M434.9,458.8 439,461.6 439.5,468.3 435.2,469.1 434.9,478.3 438.2,479.9 436.6,484.1 433.2,485.8 428.2,483.3 425.7,484.1M434.9,478.3 459,479.6 480,477.4M459,479.6 458.2,493.3 453.2,494.1 452.4,503.3 425.7,504.9M458.2,493.3 461.5,498.3 462.4,513.2 461.8,524.3M462.4,513.2 471.5,512.9 471.8,509.9 480,509.1M425.7,492.4 414.9,492.4 414.9,501.6 404.9,501.6 404.1,511.6 406.6,513.2 405.7,521.6 404.1,522.4 404.9,543.2 394.9,543.2 394.1,552.4 392.4,553.2 392.4,562.4 399.9,563.2 401.3,565M454.9,525.7 453.2,531.6 444.9,532.4 444,542.4 434.9,543.2 434.1,551.5 432.4,553.2 432.4,565M354.9,457.2 355,465 350.8,470 347.5,478.3 345,476.6 342.5,469.1 340,468.3 336.7,474.1 338.3,481.6 336.7,489.9 331.7,491.6 325,493.3 320,493.3M331.7,491.6 336.7,495.8 345,503.3 346.6,511.6 349.1,514.9 350.8,529.9 356.6,536.6 366.6,538.2M325,493.3 326.7,503.3 330,505.7 326.7,509.9 325,519.9 321.7,526.6 324.2,536.6 322.5,553.2 326.7,565M320,425.8 323.3,431.7 326.7,441.6 330,445 330.8,455.9M320,396.5 316,399.1 310.6,399.8 307.9,404.5 309.2,409.9 311.9,412.6 309.9,418.1 310.7,419.9M320,413.2 316,408.6 314.6,404.5 316,399.1M310.7,419.9 317.3,424.8 320,425.8M521.6,425 522.8,430 524.1,440 525,459.1 525.8,466.6 529.1,484.1 530.8,494.9 531.9,520.7 536.6,534.9M480,458 524.8,455.8M525.8,466.6 557.4,465 586.6,463.6 609,461.3 610.7,465.8 606.5,470 608.2,472.4 616.1,472.9M480,531.6 486.7,529.9 493.3,531.6 501.6,529.9 510,533.2 515.8,528.2 521.6,529.9 530,533.2 536.6,534.9 540.8,534.9 541.6,546.5 542.4,565M541.6,546.5 579.9,544 598.1,542.7M599.9,425 606.5,427.5 615.7,435 619,442.5 620.9,445 625,447.1M619.5,458.3 640,456.5M610.7,494.1 633.2,493.3 640,492.8M478.2,430 480,432.5 491.7,432 492.5,430 499.1,430 499.6,432.5 523,431.3M482.8,420 484.2,432.3M524.1,440 539.1,440.8 539.9,435 549.9,434.2 563.3,432.5 563.3,429.2 565.7,423.3 566.4,420M563.3,432.5 566.6,441.6 569.1,451.6 570.7,464.3M597.4,462.5 596.6,453.3 603.2,450 611.5,445 618.9,442.3M482.5,457.8 481.7,468.3 483.3,476.6 498.3,478.3 500,484.1 510.8,484.9 513.3,478.3 527.5,475.9M480,478.3 483.3,476.6M500,484.1 496.7,488.3 498.3,496.6 493.3,499.9 492.5,506.6 480,509.1M492.5,506.6 506.6,513.2 505,526.6 496.8,530.9M506.6,513.2 509.1,503.3 520.8,493.3 530.8,494.9M557.4,465 556.9,483.3 529.3,485.3M556.9,483.3 559.9,485.8 559.1,491.6 566.6,489.9 570.7,492.4 578.2,489.9 579.9,478.3 586.6,477.4 586.6,463.6M559.1,491.6 553.3,503.3 551.6,508.2 541.6,509.9 539.9,516.6 532,520.8M570.7,492.4 574.1,498.3 575.7,506.6 574.9,513.2 579.9,519.9 580.7,544M578.2,489.9 574.9,494.1 576.6,498.3 583.2,498.3 586.6,490.8 596.6,489.9 611.9,488.3M575.7,506.6 583.2,513.2 589.9,521.6 595.2,525.2M551.6,508.2 550.8,518.2 552.4,519.9 553.3,545.8M552.4,519.9 574.9,521.6 579.9,519.9M610.7,494.1 613.2,509.9 618.2,519.9 619.9,524.9 633.2,523.2 631.5,513.2 630.7,503.3 633.2,493.3M618.2,519.9 613.2,526.6 612.4,536.6 618.2,546.5 613.2,553.2 606.5,556.5 600.9,561.6M633.2,523.2 636.5,524.1 634.8,536.6 633.2,549.9 640,548.7M556.6,545.6 554.1,551.5 557.4,558.2 555.8,565M579.9,544 579.1,553.2 581.6,565M515.8,528.2 506.6,539.9 505,546.5 502.5,553.2 501.6,565M625,447.1 626.6,443.3 630,440.8 631.6,440 636.6,443.3 637.9,441.6 635.8,438.3 640,435M622.4,425 623.1,428.3 631.2,428.3 631.9,440.2M640,435 643,433.7 641.4,429.5 643.5,423.3 647.7,424.3 650.8,422.3 659.1,424.3 661.2,421.2 664.9,420.2 668.5,421.2 669.5,417.1 672.7,413.9 678.9,417.1 681,415 681.8,415.1M644.8,415.1 644,420.2 643.5,423.3M665.7,415.1 665.9,420.5M640,456.5 646.2,455.8 646.7,452.5 694.9,445 723.3,441.6 761.5,435.8 783.2,432.5 800,428.6M640,492.9 645,490.8 650.8,489.6 683.3,485.3 699.1,483.3 721.6,479.9 739.9,476.7M646.7,452.5 643.3,460 647.5,476.6 645,490.8M694.9,445 686.6,460 685.8,471.6 683.3,476.6 683.6,485.3M714.9,442.6 714.1,458.3 706.6,463.3 701.6,473.3 699.1,483.3M721.6,479.9 723.3,473.3 726.6,468.3 738.2,461.6 746.6,453.3 754.9,447.5 763.2,452.5 769,458.3 768.2,466.6 768.1,466.8M763.2,452.5 759.9,445.8 762.3,435.7M783.7,432.5 784.9,442.5 771.5,445.8 769,458.3 799.9,451.7M799.9,442.5 793.2,445.3 786.5,443.3 784.9,442.5M716.1,415.1 713.3,420.2 704.9,430.1 701.8,435.8 700.8,444.3M726.6,441.1 736.6,433.3 746.6,423.3 754.9,415 756.6,410M746.5,410.1 754.9,415 763.2,420 771.5,416.7 781.5,413.3 786.5,418.3 783.7,432.5M665.9,420.3 669,422.3 669.5,427.5 666.5,434.6 666,439 671.6,443.1 675.8,447.9M692.7,415.1 692.4,420.2 697.6,424.3 704.9,430.1M650.8,489.6 651.7,506.6 652.5,526.6 653.3,554.2M651.6,505.7 672.5,504.9 674.1,509.9 681.6,505.7 685,502.4 684.1,488.3 683.6,485.3M674.1,509.9 672.5,524.9 677.5,532.4 680.8,533.2 688.3,526.6 694.9,519.9 701.6,509.9 700.8,503.2 698.3,493.3 699.1,483.3M652.8,538.2 660.8,534.9 667.5,541.5 679.1,543.2 682.5,548.2 690,545.7 701.6,541.5 710.8,543.2 711.6,553.2 718.3,555M680.8,533.2 688.3,534 690,545.7M699.1,483.3 704.1,499.9 706.6,508.6 714.9,533.2 719.1,543.2 718.3,555M716.6,480.7 717.4,506.9 706.6,508.6M717.4,506.9 730.7,509.9 734.9,506.6 739.9,504.1 745.8,503.8M730.7,509.9 733.2,516.6 732.4,526.6 734.9,536.5 739.9,541.5 734.9,544.9 726.6,543.2 719.1,543.2M739.9,541.5 753.2,539.9 768.2,533.2M768.2,533.2 769,555M739.9,541.5 740.7,555M739.8,476.6 746.6,475.4 756.5,470.9 769.5,466.3 775.4,466.1 775.9,466.7 782.5,465.4 785.3,467.4 788,470.9 790.1,471.6M775.7,466.5 777,479.8 780.5,487.3 786.6,485.9 788,487.3 790,485.7M780.5,487.3 778.4,493.5 779.8,499 783.9,501.7 783.9,505.1 790,508.2M743.3,476 740.8,483.3 741.6,484.6 744.9,485.8 750,487.4 754.1,492.1 758.2,497.5 763.3,502 764,503.1 777,511.3 778.4,512 782.5,516.8 786.6,525 792.1,531.2 793.5,534.6 799.1,534.7M783.9,505.1 777.7,511.6M764,503.1 756.5,508.6 761.9,519.5 764,525 761.9,529.8 768.8,533.3 779.1,534.6 785.9,533.3 792.1,531.2M733.9,477.7 733.3,484.2 735.7,489.9 740.4,493.8 744.1,496.5 745.8,503.8 753.7,504.7 763.1,501.8M754.1,492.1 761.3,484.6 769.5,488.7 773.3,482.5 777.5,480.9M790,430.9 830.8,421.6 864.9,412.5M856.1,407.2 859.9,405 864.9,409.2 868.3,413.3 864.9,412.5 863.3,418.3 856.6,421.6 855.8,426.6 859.9,428.3 866.6,425 869.9,428.3 874.9,428.3 875.7,432.5 871.6,435 868.3,440 861.6,438.3 863.3,443.3 859.9,449.9 868.3,448.3 869.9,451.6 866.6,456.6 859.9,458.3 853.3,461.6 851.6,464.9 846.6,469.9 844.1,476.6 844.9,481.6 833.3,484.1 828.3,491.6 824.1,498.2 825,503.2 820,509.9 813.3,516.5 806.7,523.2 801.7,528.2 798.3,536.5 796.6,540M868.3,413.3 873.3,420 879.1,427M856.1,407.2 853.3,403.3 844.9,401.3 836.2,399.8M789.7,444.3 800,442.5 818.3,439.1 820,436.6 828.3,439.1 840,437.5 846.6,435 856.6,435.8 864.9,434.1 871.6,435M830.8,421.6 829.2,439M825.4,438.2 823.3,447.4 819.1,448.3 813.3,454.4 811.6,450.8 790.3,454.3M819.1,448.3 828.3,453.3 838.3,453.3 841.6,455.8 848.3,457.4 853.3,461.6M813.3,454.4 809.1,468.3 833.3,484.1M790,471.5 793.3,471.6 809.1,468.3M793.3,471.6 798.3,479.9 790.1,486.4M798.3,479.9 806.7,486.6 808.3,493.2 806.7,499.9 824.3,504.2M806.7,499.9 795,509.9 790,508.1M792.2,406.4 796.7,400 799.8,394.9M811.6,394.7 808.3,403.3 815,411.7 815.7,425M836.6,395 835.8,405 832.5,416.6 830.8,421.6M786.5,418.3 791.2,407.9 799.9,394.8 805.8,388.9 807.2,381.7 802.8,374.4 798.5,381.7 794.2,383.5M806.7,384.5 814.5,386.8 811.6,394.8 808.5,403.6M764.2,412.2 772.2,406.4 781,398.4 783.9,399.1 780,412.6M180,562.7 205.8,577 246.6,580.8 263.2,582.5 264.1,572.5 295.7,574.1 301.5,580 308.2,588.3 316.5,596.6 324.8,603.3 330,611.6M249.1,565 246.6,580.8M294.9,570 295.7,574.1M294.9,570 330,571.7M326.6,565 329,571.6M330,571.6 365,572.5 365,565M324.8,603.3 330,611.6 331.7,616.6 336.7,626.6 350,636.6 360.8,643.3 366.6,636.6 371.6,626.6 378.3,624.1 386.6,624.9 396.6,625.8 403.3,633.3 411.6,641.6 416.6,651.6 423.2,663.2 429.9,673.2 436.6,683.2 438.2,691.5 443.2,701.5 445,705.1M365,572.5 379.9,572.5 379.9,595.8 386.6,599.1 391.6,607.5 390.7,625.3M392.5,562.4 401.3,563.3 401.6,573 399.6,573.7 399.1,582 380.8,582.8 379.9,576.7M399.6,574.2 419.1,574.2 419.9,585 429.9,585 434.9,586.6 439.9,585.8 446.5,585.8 453.2,590 458.2,586.6 463.2,591.6 466.5,598.3 463.2,605 461.5,611.6 456.5,619.9 449.9,625.8 444.9,629.1 437.4,629.1 436.6,641.6 411.7,641.8M432.4,565 433.2,571.7 439.9,572 439.9,585.8M463.2,605 469.9,608.3 480,607.4M436.6,641.6 448.2,641.6 448.2,637.4 456.5,639.9 463.2,648.2 466.5,658.2 468.2,664.9 466.5,673.2 464.9,676.6 464.9,684.9 469.9,683.2 476.5,681.5 479.6,679.8M456.6,705.1 456.9,698.2 466.5,697.4 466.5,699.9 480.9,700.5M479.9,676.7 481.7,668.2 486.7,663.2 490,658.2 495,656.6 496.7,651.6 505,653.2 513.3,648.2 523.3,639.9 528.3,633.3 527.5,628.3 530,624.1 533.3,628.3 538.3,626.6 544.9,623.3 549.9,621.6 551.6,621.9 563.3,621.9 573.2,624.1 583.2,624.9 586.6,621.9 590,617.8M501.6,565 496.7,566.7 502.5,570 495.8,576.7 500,585 490,595 491.7,601.6 480,607.5M490,595 501.6,605 505,614.9 506.6,622.4 509.1,614.9 522.5,611.6 524.1,606.6 529.1,605 533.3,612.4 549.9,609.1 551.6,609.4M542.4,565 543.3,570 547.4,575 549.9,583.3 553.3,595 551.6,609.1 550.8,618.3 549.9,621.6M506.6,622.4 501.6,626.6 490,638.3 483.3,646.6 485,653.2 490,658.2M553.2,595.3 572.4,595 574.1,604.1 579.9,605 586.6,606.6 583.2,610 581.6,611.6 586.6,618.3 587,621.4M547.4,575 553.3,572.5 558.3,571.7 559.9,567.5 563.3,566.7 564.9,575.8 567.4,577.5 564.9,583.3 566.6,587.5 567.4,595.1M564.9,575.8 573.2,571.7 578.2,570 588.2,570 589.9,575 594.9,573.3M594.9,596.6 599.9,605 596.6,605.8 589.9,605 586.6,606.6M591.9,590.6 613.2,587.5 636.5,585 640,587.5M599.9,605 604.9,608.3 606.5,614.9 608.2,619.9 603.2,624.1 603.1,628.1M604.9,608.3 611.5,606.6 619.1,604.3M629.9,605.5 636.5,603.3 640,599.9M629.8,585.7 633.2,601.6 636.5,603.3M555.8,565 554.9,569.2 558.3,571.7M581.6,565 583.2,567.5 588.2,570M606.5,556.5 612.5,554.1 617.5,557.5 618.3,564.1 617.9,570 618.7,571.6 617.9,580 612.9,581.6 613.3,587.5M618.3,564.1 626.6,563.7 627.1,560.8 634.1,559.6M633.7,549.8 634.1,559.6 635,568.3 633.3,569.1 635,574.1 633.3,578.3 636.6,579.1 637.5,585M640,549 651.6,548.3M653.1,546.6 651.6,548.3 653.3,567.5 654.9,583.3 655.4,585.8 656.6,596.6 657,600M637.5,585 639.1,587.5 646.6,587.5 647.5,585.8 655.3,585.4M590,617.8 594.7,620.6 599.4,624.3 602.2,626.2 604,629.9 608.7,631.3 614.3,631.8 618.1,628.1 621.8,629 625.6,631.8 627.5,626.2 625.6,622.5 629.3,622.5 632.1,625.3 635.9,626.2 640.6,629 642.4,633.7 647.1,630.9 649,627.1 646.2,625.3 642.4,623.4 636.8,621.5 634,618.7 636.8,615.9 640.6,613.1 640.1,608.4 636.8,607.9 634,611.2 634,605.1 636.8,603.7 640,600M618.1,605.1 620.9,602.8 625.6,602.3 629.3,604.7 630.3,606.1 627.5,608.9 622.8,609.8 618.6,608.4 618.1,605.1M640,600 648.3,598.3 657,597 663.3,597.5 665,590 667.5,587.5 670,591.6 669.6,598.6 673.3,598.3 678.3,594.1 685,591.6 694.9,591.6 703.3,590.8 709.9,594.1 716.6,598.3 719.9,604.9 726.6,603.3 733.2,600 739.9,595 746.6,591.6 753.2,596.6 761.5,603.3 769.9,608.3 776.5,611.6 779,619.9 778.2,629.9 779,636.6 783.2,643.2 786.5,649.9 793.2,656.6 798.2,661.6 800.1,664.9M654.8,582.1 671.6,580.8 721.6,574.1 724.9,580 749.9,577.5 779.9,574.6 781.5,578.3 783.2,575 783.2,568.3 794,567.5M671.6,580.8 670.8,591.6 669.6,598.6M794,555 792.3,560 794,567.5 796.5,576.6 800.1,588.3M652.1,554.2 660,554.2 660.8,559.2 668.3,557.5 671.6,553.3 681.6,556.7 690,555 698.3,556.7 706.6,553.3 710.8,555 711.5,551.7M718.3,555 719.9,560 721.6,574.1M740.7,555 743.2,566.7 748.2,570 749.4,577.5M769,555 768.2,560 773.2,571.6 774,575.2M749.9,577.5 746.6,591.6M776.5,611.6 781.5,598.3 789.9,600 796.5,597.5 800.1,598.3M778.4,631.7 800.1,621.6M796.7,540 795,546.7 793.3,555 794,555M800,588.3 806.6,596.6 815,608.3 821.6,614.9 823.3,623.2 830,634.9 836.6,644.9 841.6,654.9 844.1,675M800,598.3 805.6,595.3M800,621.6 817.5,617.4M792.6,656 813.3,648.2 815,644.9 823.3,643.2 833.4,640.1M829.5,641.5 834.9,656.5 837.4,675M800,664.9 801.6,668.2 806.7,675M806.6,675 810,678.6 816.6,679.6 820,683.3 824.1,690 825.8,693.6 830,695.8 834.9,695.3 841.6,693 845.8,688.3 844.6,681.6 844.1,675M837.4,675 836.6,683.3 835.3,695.2M815.3,697.5 818,696.5 820.6,697.5 818,698.5 815.3,697.5M822.8,697.5 825.5,696.5 828.1,697.5 825.5,698.5 822.8,697.5M444.9,705 451.6,707.5 454.9,708.8 464.9,712.9 474.9,713.3 481.6,717.4 485.7,713.6 483.3,710 479.9,696.6 478.3,691.6 480,676.6M456.5,705 454.6,708.6"/>
<path fill="none" stroke="#000" stroke-width="2.1" stroke-linejoin="round" stroke-linecap="round" d="M845.1,342.8 842.9,352.4 844.3,360.6 846.1,367 848.8,371.6 851.6,375.2 850.6,378.9 853.4,382.5 854.3,386.2 855.2,390.8 857,394.4 855.2,397.2 858,400.8 858.9,404.5 856.2,407.1M625,447.1 625.9,451.6 619.9,457.5 618.2,461.6 617.4,466.6 615.7,474.9 613.2,483.3 611.5,489.9 608.2,498.3 604,506.6 601.5,513.2 596.6,519.9 594.9,526.6 596.6,536.6 599,546.5 599.9,556.5 601.5,565M601.5,565 596.6,566.7 594.9,573.3 593.2,581.6 591.6,590 594.9,596.6"/>
<rect x="11.00" y="788.5" width="55.26" height="55.5" fill="#0028ff" stroke="#000" stroke-width="1.1"/>
<rect x="66.26" y="788.5" width="55.26" height="55.5" fill="#0060ff" stroke="#000" stroke-width="1.1"/>
<rect x="121.53" y="788.5" width="55.26" height="55.5" fill="#0090ff" stroke="#000" stroke-width="1.1"/>
<rect x="176.79" y="788.5" width="55.26" height="55.5" fill="#00c0ff" stroke="#000" stroke-width="1.1"/>
<rect x="232.06" y="788.5" width="55.26" height="55.5" fill="#00ffff" stroke="#000" stroke-width="1.1"/>
<rect x="287.32" y="788.5" width="55.26" height="55.5" fill="#30ffd0" stroke="#000" stroke-width="1.1"/>
<rect x="342.59" y="788.5" width="55.26" height="55.5" fill="#60ffa0" stroke="#000" stroke-width="1.1"/>
<rect x="397.85" y="788.5" width="55.26" height="55.5" fill="#99fe67" stroke="#000" stroke-width="1.1"/>
<rect x="453.12" y="788.5" width="55.26" height="55.5" fill="#ffffff" stroke="#000" stroke-width="1.1"/>
<rect x="508.38" y="788.5" width="55.26" height="55.5" fill="#ffff00" stroke="#000" stroke-width="1.1"/>
<rect x="563.65" y="788.5" width="55.26" height="55.5" fill="#ffc800" stroke="#000" stroke-width="1.1"/>
<rect x="618.91" y="788.5" width="55.26" height="55.5" fill="#ff9600" stroke="#000" stroke-width="1.1"/>
<rect x="674.18" y="788.5" width="55.26" height="55.5" fill="#ff6400" stroke="#000" stroke-width="1.1"/>
<rect x="729.44" y="788.5" width="55.26" height="55.5" fill="#ff3200" stroke="#000" stroke-width="1.1"/>
<rect x="784.71" y="788.5" width="55.26" height="55.5" fill="#ff0000" stroke="#000" stroke-width="1.1"/>
<rect x="839.97" y="788.5" width="55.26" height="55.5" fill="#c00000" stroke="#000" stroke-width="1.1"/>
<rect x="895.24" y="788.5" width="55.26" height="55.5" fill="#8a0000" stroke="#000" stroke-width="1.1"/>
<g font-family="Liberation Sans, sans-serif" fill="#000">
<text transform="translate(108.60,23.40) scale(1.1,1)" font-size="25.4" textLength="688.55" lengthAdjust="spacing" stroke="#fff" stroke-width="0.3">NOAA/NCEI Climate Division Temperature Anomalies (F)</text>
<text transform="translate(417.00,55.40) scale(1.15,1)" font-size="25.4" textLength="121.74" lengthAdjust="spacing" stroke="#fff" stroke-width="0.3">Jan 1960</text>
<text transform="translate(281.20,88.80) scale(1.04,1)" font-size="22.7" textLength="395.19" lengthAdjust="spacing" stroke="#000" stroke-width="0.12">Versus 1895−2000 Longterm Average</text>
<text transform="translate(633.00,779.80) scale(1,1)" font-size="20" textLength="247.40" lengthAdjust="spacing" stroke="#000" stroke-width="0.25">NOAA PSL and CIRES−CU</text>
<text transform="translate(38.30,872.70) scale(1.1,1)" font-size="30" textLength="65.73" lengthAdjust="spacing" stroke="#fff" stroke-width="0.3">−7.0</text>
<text transform="translate(149.30,872.70) scale(1.1,1)" font-size="30" textLength="65.09" lengthAdjust="spacing" stroke="#fff" stroke-width="0.3">−5.0</text>
<text transform="translate(260.50,872.70) scale(1.1,1)" font-size="30" textLength="65.00" lengthAdjust="spacing" stroke="#fff" stroke-width="0.3">−3.0</text>
<text transform="translate(370.50,872.70) scale(1.1,1)" font-size="30" textLength="65.00" lengthAdjust="spacing" stroke="#fff" stroke-width="0.3">−1.0</text>
<text transform="translate(503.00,872.70) scale(1.1,1)" font-size="30" textLength="41.09" lengthAdjust="spacing" stroke="#fff" stroke-width="0.3">1.0</text>
<text transform="translate(610.90,872.70) scale(1.1,1)" font-size="30" textLength="42.45" lengthAdjust="spacing" stroke="#fff" stroke-width="0.3">3.0</text>
<text transform="translate(721.90,872.70) scale(1.1,1)" font-size="30" textLength="43.73" lengthAdjust="spacing" stroke="#fff" stroke-width="0.3">5.0</text>
<text transform="translate(833.00,872.70) scale(1.1,1)" font-size="30" textLength="43.64" lengthAdjust="spacing" stroke="#fff" stroke-width="0.3">7.0</text>
</g>
</svg></body></html>
